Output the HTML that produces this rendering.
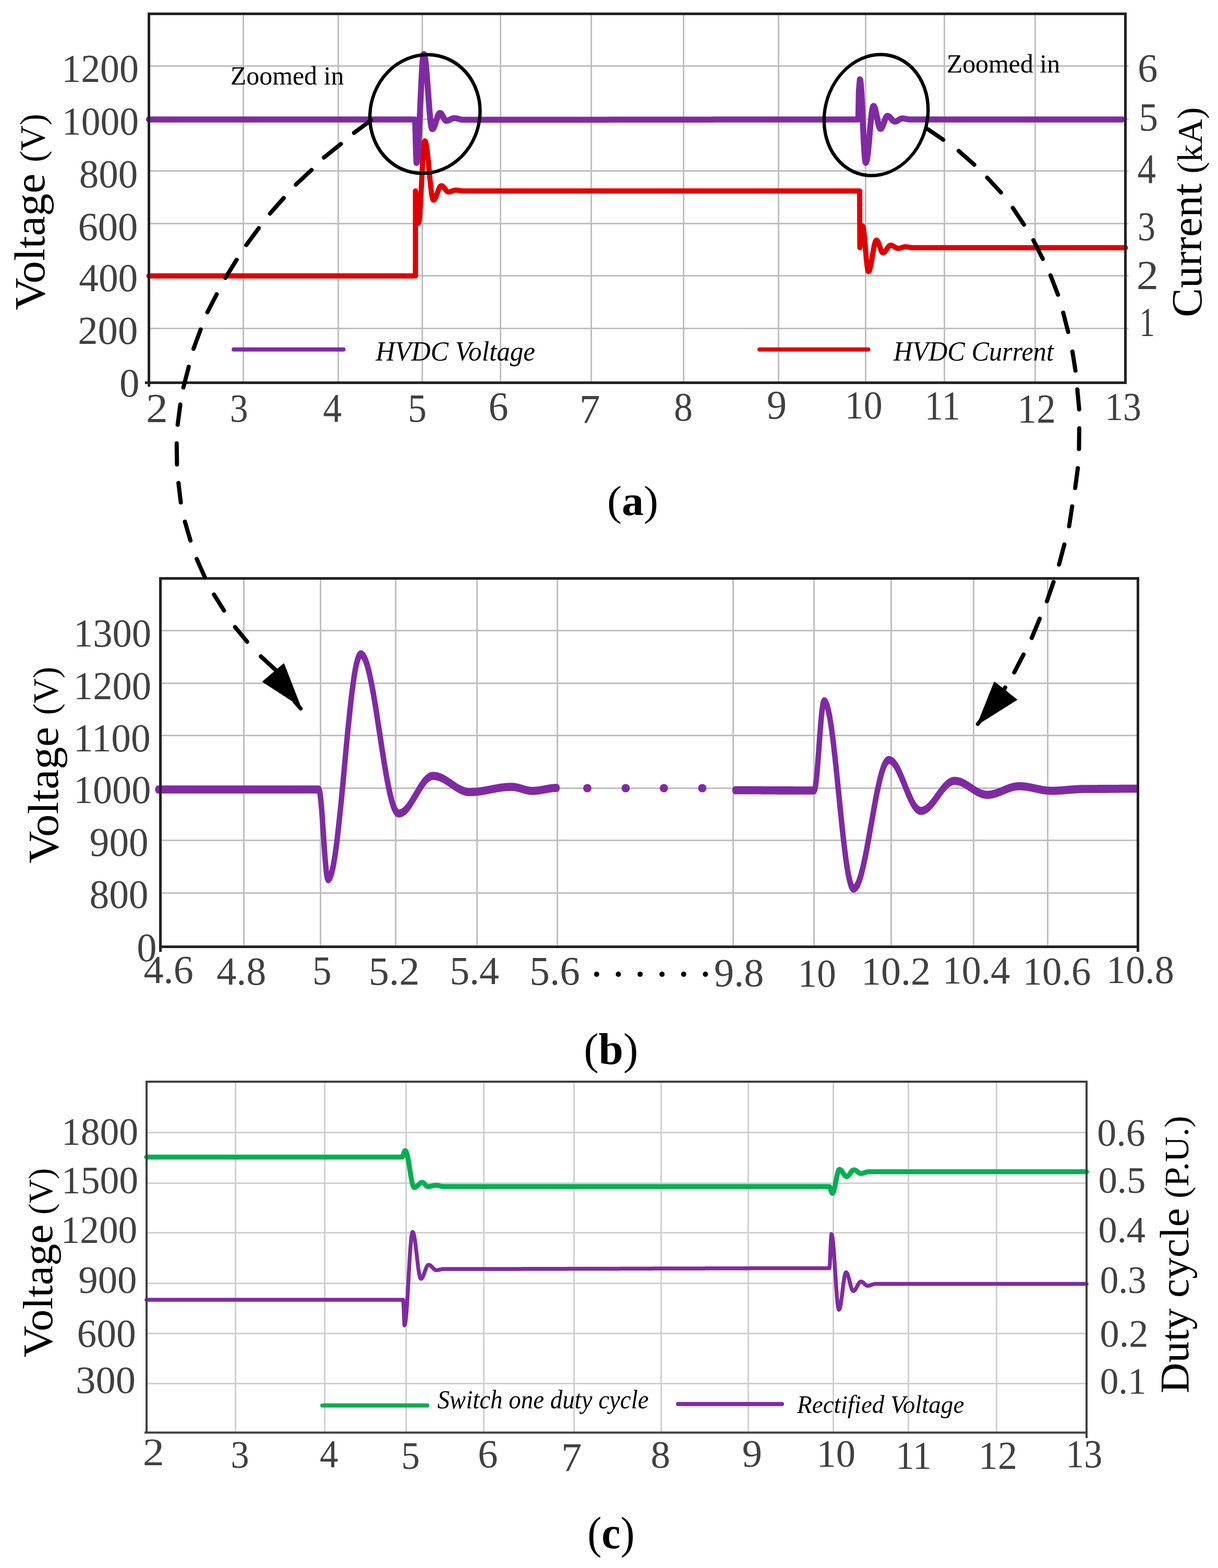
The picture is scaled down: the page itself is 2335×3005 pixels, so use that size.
<!DOCTYPE html><html><head><meta charset="utf-8"><title>HVDC figure</title><style>html,body{margin:0;padding:0;background:#fff;width:2335px;height:3005px;overflow:hidden;}svg{display:block;}</style></head><body><svg width="2335" height="3005" viewBox="0 0 2335 3005" font-family="'Liberation Serif','Times New Roman',serif">
<rect width="2335" height="3005" fill="#fff"/>
<path d="M466.5,26.5V733.5M648.5,26.5V733.5M809.5,26.5V733.5M959.5,26.5V733.5M1133.5,26.5V733.5M1310.5,26.5V733.5M1492.5,26.5V733.5M1659.5,26.5V733.5M1810.5,26.5V733.5M1984.5,26.5V733.5M285.5,126.5H2163.5M285.5,228.5H2163.5M285.5,327.5H2163.5M285.5,428.5H2163.5M285.5,528.5H2163.5M285.5,629.5H2163.5" stroke="#BFBFBF" stroke-width="3" fill="none"/>
<path d="M285.5,528.8L796.5,528.8L796.5,366.0L802.0,428.0L802.7,426.7L803.5,422.7L804.2,416.2L804.9,407.4L805.7,396.6L806.4,384.2L807.1,370.6L807.9,356.3L808.6,341.7L809.4,327.4L810.1,313.8L810.8,301.4L811.6,290.6L812.3,281.8L813.0,275.3L813.8,271.3L814.5,270.0L815.2,270.5L815.9,272.1L816.7,274.7L817.4,278.3L818.1,282.7L818.8,288.0L819.5,294.0L820.2,300.6L821.0,307.7L821.7,315.2L822.4,322.9L823.1,330.6L823.8,338.3L824.5,345.8L825.3,352.9L826.0,359.5L826.7,365.5L827.4,370.8L828.1,375.2L828.8,378.8L829.6,381.4L830.3,383.0L831.0,383.5L831.7,383.3L832.4,382.9L833.1,382.1L833.9,381.1L834.6,379.8L835.3,378.3L836.0,376.6L836.7,374.8L837.4,372.8L838.1,370.8L838.9,368.7L839.6,366.7L840.3,364.7L841.0,362.9L841.7,361.2L842.4,359.7L843.1,358.4L843.9,357.4L844.6,356.6L845.3,356.2L846.0,356.0L846.7,356.1L847.4,356.3L848.1,356.7L848.8,357.1L849.5,357.8L850.2,358.5L850.9,359.3L851.6,360.1L852.3,361.1L853.0,362.0L853.7,362.9L854.4,363.9L855.1,364.7L855.8,365.5L856.5,366.2L857.2,366.9L857.9,367.3L858.6,367.7L859.3,367.9L860.0,368.0L860.7,368.0L861.4,367.9L862.2,367.8L862.9,367.6L863.6,367.4L864.3,367.1L865.1,366.8L865.8,366.6L866.5,366.2L867.2,365.9L867.9,365.7L868.7,365.4L869.4,365.1L870.1,364.9L870.8,364.7L871.6,364.6L872.3,364.5L873.0,364.5L873.7,364.5L874.4,364.5L875.1,364.6L875.8,364.6L876.5,364.7L877.2,364.7L878.0,364.8L878.7,364.9L879.4,365.0L880.1,365.1L880.8,365.2L881.5,365.2L882.2,365.3L882.9,365.4L883.6,365.5L884.3,365.6L885.0,365.7L885.8,365.8L886.5,365.8L887.2,365.9L887.9,365.9L888.6,366.0L889.3,366.0L890.0,366.0L1648.0,366.0L1648.4,474.7L1653.5,433.0L1654.2,433.8L1654.9,436.3L1655.6,440.4L1656.3,445.8L1657.1,452.4L1657.8,460.0L1658.5,468.2L1659.2,476.8L1659.9,485.3L1660.6,493.5L1661.3,501.1L1662.1,507.7L1662.8,513.1L1663.5,517.2L1664.2,519.7L1664.9,520.5L1665.6,520.2L1666.4,519.2L1667.1,517.5L1667.8,515.3L1668.5,512.5L1669.3,509.1L1670.0,505.4L1670.7,501.4L1671.5,497.1L1672.2,492.6L1672.9,488.1L1673.6,483.6L1674.4,479.3L1675.1,475.3L1675.8,471.6L1676.6,468.2L1677.3,465.4L1678.0,463.2L1678.7,461.5L1679.5,460.5L1680.2,460.2L1680.9,460.4L1681.7,461.0L1682.4,462.0L1683.2,463.4L1683.9,465.0L1684.6,467.0L1685.4,469.1L1686.1,471.3L1686.9,473.5L1687.6,475.7L1688.4,477.8L1689.1,479.8L1689.8,481.4L1690.6,482.8L1691.3,483.8L1692.1,484.4L1692.8,484.6L1693.5,484.5L1694.3,484.2L1695.0,483.8L1695.7,483.2L1696.5,482.5L1697.2,481.6L1697.9,480.6L1698.6,479.6L1699.4,478.4L1700.1,477.3L1700.8,476.2L1701.6,475.0L1702.3,474.0L1703.0,473.0L1703.8,472.1L1704.5,471.4L1705.2,470.8L1705.9,470.4L1706.7,470.1L1707.4,470.0L1708.1,470.0L1708.9,470.1L1709.6,470.3L1710.3,470.6L1711.1,470.9L1711.8,471.2L1712.5,471.6L1713.2,472.1L1714.0,472.5L1714.7,473.0L1715.4,473.5L1716.2,473.9L1716.9,474.4L1717.6,474.8L1718.3,475.1L1719.1,475.4L1719.8,475.7L1720.5,475.9L1721.3,476.0L1722.0,476.0L1722.7,476.0L1723.4,475.9L1724.2,475.8L1724.9,475.7L1725.6,475.5L1726.3,475.3L1727.0,475.1L1727.8,474.9L1728.5,474.6L1729.2,474.4L1729.9,474.1L1730.7,473.9L1731.4,473.7L1732.1,473.5L1732.8,473.3L1733.5,473.2L1734.3,473.1L1735.0,473.0L1735.7,473.0L1736.4,473.0L1737.1,473.0L1737.8,473.1L1738.6,473.2L1739.3,473.2L1740.0,473.4L1740.7,473.5L1741.4,473.6L1742.1,473.7L1742.8,473.8L1743.6,474.0L1744.3,474.1L1745.0,474.2L1745.7,474.3L1746.4,474.5L1747.1,474.5L1747.9,474.6L1748.6,474.7L1749.3,474.7L1750.0,474.7L2157.5,474.7" stroke="#E00000" stroke-width="10" fill="none" stroke-linejoin="round" stroke-linecap="round"/>
<path d="M285.5,229.0L795.5,229.0L796.2,241.2L797.0,270.8L797.8,300.3L798.5,312.5L799.2,311.2L799.9,307.4L800.6,301.1L801.3,292.5L802.0,281.9L802.7,269.4L803.4,255.4L804.1,240.3L804.8,224.3L805.5,208.0L806.2,191.7L806.9,175.7L807.6,160.6L808.3,146.6L809.0,134.1L809.7,123.5L810.4,114.9L811.1,108.6L811.8,104.8L812.5,103.5L813.2,104.2L813.9,106.2L814.6,109.5L815.3,114.0L816.0,119.6L816.7,126.4L817.4,134.0L818.1,142.4L818.8,151.4L819.5,160.9L820.2,170.6L821.0,180.4L821.7,190.1L822.4,199.6L823.1,208.6L823.8,217.0L824.5,224.6L825.2,231.4L825.9,237.0L826.6,241.5L827.3,244.8L828.0,246.8L828.7,247.5L829.4,247.3L830.1,246.8L830.8,246.0L831.5,244.8L832.2,243.4L832.9,241.7L833.6,239.8L834.3,237.7L835.0,235.4L835.7,233.2L836.5,230.8L837.2,228.6L837.9,226.3L838.6,224.2L839.3,222.3L840.0,220.6L840.7,219.2L841.4,218.0L842.1,217.2L842.8,216.7L843.5,216.5L844.2,216.6L844.9,217.0L845.6,217.6L846.3,218.5L847.0,219.5L847.7,220.7L848.4,221.9L849.1,223.3L849.9,224.7L850.6,226.1L851.3,227.3L852.0,228.5L852.7,229.5L853.4,230.4L854.1,231.0L854.8,231.4L855.5,231.5L856.2,231.5L856.9,231.4L857.6,231.3L858.3,231.1L859.0,230.9L859.7,230.6L860.4,230.4L861.1,230.0L861.8,229.7L862.5,229.4L863.2,229.0L864.0,228.6L864.7,228.3L865.4,228.0L866.1,227.6L866.8,227.4L867.5,227.1L868.2,226.9L868.9,226.7L869.6,226.6L870.3,226.5L871.0,226.5L871.7,226.5L872.4,226.6L873.1,226.6L873.8,226.7L874.5,226.8L875.2,226.9L876.0,227.1L876.7,227.2L877.4,227.4L878.1,227.6L878.8,227.8L879.5,228.0L880.2,228.2L880.9,228.4L881.6,228.6L882.3,228.8L883.0,228.9L883.8,229.1L884.5,229.2L885.2,229.3L885.9,229.4L886.6,229.4L887.3,229.5L888.0,229.5L888.7,229.5L889.4,229.5L890.1,229.5L890.8,229.5L891.5,229.5L892.2,229.5L892.9,229.5L893.6,229.5L894.3,229.5L895.0,229.5L895.7,229.5L896.4,229.5L897.1,229.5L897.8,229.5L898.5,229.5L899.2,229.5L899.9,229.5L900.6,229.5L901.3,229.5L902.0,229.5L902.7,229.5L903.4,229.5L904.1,229.5L904.8,229.5L905.5,229.5L906.2,229.5L906.9,229.5L907.6,229.5L908.3,229.5L909.0,229.5L909.7,229.5L910.4,229.5L911.1,229.5L911.8,229.5L912.5,229.5L913.2,229.5L913.9,229.5L914.6,229.5L915.3,229.5L916.0,229.5L916.7,229.5L917.4,229.5L918.1,229.5L918.8,229.5L919.5,229.5L920.2,229.5L920.9,229.5L921.6,229.5L922.3,229.5L923.0,229.5L923.7,229.5L924.4,229.5L925.1,229.5L925.8,229.5L926.5,229.5L927.2,229.5L927.9,229.5L928.6,229.5L929.3,229.5L930.0,229.5L930.7,229.5L931.4,229.5L932.1,229.5L932.8,229.5L933.5,229.5L934.2,229.5L934.9,229.5L935.6,229.5L936.3,229.5L937.0,229.5L937.7,229.5L938.4,229.5L939.1,229.5L939.8,229.5L940.5,229.5L941.2,229.5L941.9,229.5L942.6,229.5L943.3,229.5L944.0,229.5L944.7,229.5L945.4,229.5L946.1,229.5L946.8,229.5L947.5,229.5L948.2,229.5L948.9,229.5L949.6,229.5L950.3,229.5L951.0,229.5L951.7,229.5L952.4,229.5L953.1,229.5L953.8,229.5L954.5,229.5L955.2,229.5L955.9,229.5L956.6,229.5L957.3,229.5L958.0,229.5L958.7,229.5L959.4,229.5L960.1,229.5L960.8,229.5L961.5,229.5L962.2,229.5L962.9,229.5L963.6,229.5L964.3,229.5L965.0,229.5L965.7,229.5L966.4,229.5L967.1,229.5L967.8,229.5L968.5,229.5L969.2,229.5L969.9,229.5L970.6,229.5L971.3,229.5L972.0,229.5L972.7,229.5L973.4,229.5L974.1,229.5L974.8,229.5L975.5,229.5L976.2,229.5L976.9,229.5L977.6,229.5L978.3,229.5L979.0,229.5L979.7,229.5L980.4,229.5L981.1,229.5L981.8,229.5L982.5,229.5L983.2,229.5L983.9,229.5L984.6,229.5L985.3,229.5L986.0,229.5L986.7,229.5L987.4,229.5L988.1,229.5L988.8,229.5L989.5,229.5L990.2,229.5L990.9,229.5L991.6,229.5L992.3,229.5L993.0,229.5L993.7,229.5L994.4,229.5L995.1,229.5L995.8,229.5L996.5,229.5L997.2,229.5L997.9,229.5L998.6,229.5L999.3,229.5L1000.0,229.5L1000.7,229.5L1001.4,229.5L1002.1,229.5L1002.8,229.5L1003.5,229.5L1004.2,229.5L1004.9,229.5L1005.6,229.5L1006.3,229.5L1007.0,229.5L1007.7,229.5L1008.4,229.5L1009.1,229.5L1009.8,229.5L1010.5,229.5L1011.2,229.5L1011.9,229.5L1012.6,229.5L1013.3,229.5L1014.0,229.5L1014.7,229.5L1015.4,229.5L1016.1,229.5L1016.8,229.5L1017.5,229.5L1018.2,229.5L1018.9,229.5L1019.6,229.5L1020.3,229.5L1021.0,229.5L1021.7,229.5L1022.4,229.5L1023.1,229.5L1023.8,229.5L1024.5,229.5L1025.2,229.5L1025.9,229.5L1026.6,229.5L1027.3,229.5L1028.0,229.5L1028.7,229.5L1029.4,229.5L1030.1,229.5L1030.8,229.5L1031.5,229.5L1032.2,229.5L1032.9,229.5L1033.6,229.5L1034.3,229.5L1035.0,229.5L1035.7,229.5L1036.4,229.5L1037.1,229.5L1037.8,229.5L1038.5,229.5L1039.2,229.5L1039.9,229.5L1040.6,229.5L1041.3,229.5L1042.0,229.5L1042.7,229.5L1043.4,229.4L1044.1,229.4L1044.8,229.4L1045.5,229.4L1046.2,229.4L1046.9,229.4L1047.6,229.4L1048.3,229.4L1049.0,229.4L1049.7,229.4L1050.4,229.4L1051.1,229.4L1051.8,229.4L1052.5,229.4L1053.2,229.4L1053.9,229.4L1054.6,229.4L1055.3,229.4L1056.0,229.4L1056.7,229.4L1057.4,229.4L1058.1,229.4L1058.8,229.4L1059.5,229.4L1060.2,229.4L1060.9,229.4L1061.6,229.4L1062.3,229.4L1063.0,229.4L1063.7,229.4L1064.4,229.4L1065.1,229.4L1065.8,229.4L1066.5,229.4L1067.2,229.4L1067.9,229.4L1068.6,229.4L1069.3,229.4L1070.0,229.4L1070.7,229.4L1071.4,229.4L1072.1,229.4L1072.8,229.4L1073.5,229.4L1074.2,229.4L1074.9,229.4L1075.6,229.4L1076.3,229.4L1077.0,229.4L1077.7,229.4L1078.4,229.4L1079.1,229.4L1079.8,229.4L1080.5,229.4L1081.2,229.4L1081.9,229.4L1082.6,229.4L1083.3,229.4L1084.0,229.4L1084.7,229.4L1085.4,229.4L1086.1,229.4L1086.8,229.4L1087.5,229.4L1088.2,229.4L1088.9,229.4L1089.6,229.4L1090.3,229.4L1091.0,229.4L1091.7,229.4L1092.4,229.4L1093.1,229.4L1093.8,229.4L1094.5,229.4L1095.2,229.4L1095.9,229.4L1096.6,229.4L1097.3,229.4L1098.0,229.4L1098.7,229.4L1099.4,229.4L1100.1,229.4L1100.8,229.4L1101.5,229.4L1102.2,229.4L1102.9,229.4L1103.6,229.4L1104.3,229.4L1105.0,229.4L1105.7,229.4L1106.4,229.4L1107.1,229.4L1107.8,229.4L1108.5,229.4L1109.2,229.4L1109.9,229.4L1110.6,229.4L1111.3,229.4L1112.0,229.4L1112.7,229.4L1113.4,229.4L1114.1,229.4L1114.8,229.4L1115.5,229.4L1116.2,229.4L1116.9,229.4L1117.6,229.4L1118.3,229.4L1119.0,229.4L1119.7,229.4L1120.4,229.4L1121.1,229.4L1121.8,229.4L1122.5,229.4L1123.2,229.4L1123.9,229.4L1124.6,229.4L1125.3,229.4L1126.0,229.4L1126.7,229.4L1127.4,229.4L1128.1,229.4L1128.8,229.4L1129.5,229.4L1130.2,229.4L1130.9,229.4L1131.6,229.4L1132.3,229.4L1133.0,229.4L1133.7,229.4L1134.4,229.4L1135.1,229.4L1135.8,229.4L1136.5,229.4L1137.2,229.4L1137.9,229.4L1138.6,229.4L1139.3,229.4L1140.0,229.4L1140.7,229.4L1141.4,229.4L1142.1,229.4L1142.8,229.4L1143.5,229.4L1144.2,229.4L1144.9,229.4L1145.6,229.4L1146.3,229.4L1147.0,229.4L1147.7,229.4L1148.4,229.4L1149.1,229.4L1149.8,229.4L1150.5,229.4L1151.2,229.4L1151.9,229.4L1152.6,229.4L1153.3,229.4L1154.0,229.4L1154.7,229.4L1155.4,229.4L1156.1,229.4L1156.8,229.4L1157.5,229.4L1158.2,229.4L1158.9,229.4L1159.6,229.4L1160.3,229.4L1161.0,229.4L1161.7,229.4L1162.4,229.4L1163.1,229.4L1163.8,229.4L1164.5,229.4L1165.2,229.4L1165.9,229.4L1166.6,229.4L1167.3,229.4L1168.0,229.3L1168.7,229.3L1169.4,229.3L1170.1,229.3L1170.8,229.3L1171.5,229.3L1172.2,229.3L1172.9,229.3L1173.6,229.3L1174.3,229.3L1175.0,229.3L1175.7,229.3L1176.4,229.3L1177.1,229.3L1177.8,229.3L1178.5,229.3L1179.2,229.3L1179.9,229.3L1180.6,229.3L1181.3,229.3L1182.0,229.3L1182.7,229.3L1183.4,229.3L1184.1,229.3L1184.8,229.3L1185.5,229.3L1186.2,229.3L1186.9,229.3L1187.6,229.3L1188.3,229.3L1189.0,229.3L1189.7,229.3L1190.4,229.3L1191.1,229.3L1191.8,229.3L1192.5,229.3L1193.2,229.3L1193.9,229.3L1194.6,229.3L1195.3,229.3L1196.0,229.3L1196.7,229.3L1197.4,229.3L1198.1,229.3L1198.8,229.3L1199.5,229.3L1200.2,229.3L1200.9,229.3L1201.6,229.3L1202.3,229.3L1203.0,229.3L1203.7,229.3L1204.4,229.3L1205.1,229.3L1205.8,229.3L1206.5,229.3L1207.2,229.3L1207.9,229.3L1208.6,229.3L1209.3,229.3L1210.0,229.3L1210.7,229.3L1211.4,229.3L1212.1,229.3L1212.8,229.3L1213.5,229.3L1214.2,229.3L1214.9,229.3L1215.6,229.3L1216.3,229.3L1217.0,229.3L1217.7,229.3L1218.4,229.3L1219.1,229.3L1219.8,229.3L1220.5,229.3L1221.2,229.3L1221.9,229.3L1222.6,229.3L1223.3,229.3L1224.0,229.3L1224.7,229.3L1225.4,229.3L1226.1,229.3L1226.8,229.3L1227.5,229.3L1228.2,229.3L1228.9,229.3L1229.6,229.3L1230.3,229.3L1231.0,229.3L1231.7,229.3L1232.4,229.3L1233.1,229.3L1233.8,229.3L1234.5,229.3L1235.2,229.3L1235.9,229.3L1236.6,229.3L1237.3,229.3L1238.0,229.3L1238.7,229.3L1239.4,229.3L1240.1,229.3L1240.8,229.3L1241.5,229.3L1242.2,229.3L1242.9,229.3L1243.6,229.3L1244.3,229.3L1245.0,229.3L1245.7,229.3L1246.4,229.3L1247.1,229.3L1247.8,229.3L1248.5,229.3L1249.2,229.3L1249.9,229.3L1250.6,229.3L1251.3,229.3L1252.0,229.3L1252.7,229.3L1253.4,229.3L1254.1,229.3L1254.8,229.3L1255.5,229.3L1256.2,229.3L1256.9,229.3L1257.6,229.3L1258.3,229.3L1259.0,229.3L1259.7,229.3L1260.4,229.3L1261.1,229.3L1261.8,229.3L1262.5,229.3L1263.2,229.3L1263.9,229.3L1264.6,229.3L1265.3,229.3L1266.0,229.3L1266.8,229.2L1267.5,229.2L1268.2,229.2L1268.9,229.2L1269.6,229.2L1270.3,229.2L1271.0,229.2L1271.7,229.2L1272.4,229.2L1273.1,229.2L1273.8,229.2L1274.5,229.2L1275.2,229.2L1275.9,229.2L1276.6,229.2L1277.3,229.2L1278.0,229.2L1278.7,229.2L1279.4,229.2L1280.1,229.2L1280.8,229.2L1281.5,229.2L1282.2,229.2L1282.9,229.2L1283.6,229.2L1284.3,229.2L1285.0,229.2L1285.7,229.2L1286.4,229.2L1287.1,229.2L1287.8,229.2L1288.5,229.2L1289.2,229.2L1289.9,229.2L1290.6,229.2L1291.3,229.2L1292.0,229.2L1292.7,229.2L1293.4,229.2L1294.1,229.2L1294.8,229.2L1295.5,229.2L1296.2,229.2L1296.9,229.2L1297.6,229.2L1298.3,229.2L1299.0,229.2L1299.7,229.2L1300.4,229.2L1301.1,229.2L1301.8,229.2L1302.5,229.2L1303.2,229.2L1303.9,229.2L1304.6,229.2L1305.3,229.2L1306.0,229.2L1306.7,229.2L1307.4,229.2L1308.1,229.2L1308.8,229.2L1309.5,229.2L1310.2,229.2L1310.9,229.2L1311.6,229.2L1312.3,229.2L1313.0,229.2L1313.7,229.2L1314.4,229.2L1315.1,229.2L1315.8,229.2L1316.5,229.2L1317.2,229.2L1317.9,229.2L1318.6,229.2L1319.3,229.2L1320.0,229.2L1320.7,229.2L1321.4,229.2L1322.1,229.2L1322.8,229.2L1323.5,229.2L1324.2,229.2L1324.9,229.2L1325.6,229.2L1326.3,229.2L1327.0,229.2L1327.7,229.2L1328.4,229.2L1329.1,229.2L1329.8,229.2L1330.5,229.2L1331.2,229.2L1331.9,229.2L1332.6,229.2L1333.3,229.2L1334.0,229.2L1334.7,229.2L1335.4,229.2L1336.1,229.2L1336.8,229.2L1337.5,229.2L1338.2,229.2L1338.9,229.2L1339.6,229.2L1340.3,229.2L1341.0,229.2L1341.7,229.2L1342.4,229.2L1343.1,229.2L1343.8,229.2L1344.5,229.2L1345.2,229.2L1345.9,229.2L1346.6,229.2L1347.3,229.2L1348.0,229.2L1348.7,229.2L1349.4,229.2L1350.1,229.2L1350.8,229.2L1351.5,229.2L1352.2,229.2L1352.9,229.2L1353.6,229.2L1354.3,229.2L1355.0,229.2L1355.7,229.2L1356.4,229.2L1357.1,229.2L1357.8,229.2L1358.5,229.2L1359.2,229.2L1359.9,229.2L1360.6,229.2L1361.3,229.2L1362.0,229.2L1362.7,229.2L1363.4,229.2L1364.1,229.2L1364.8,229.2L1365.5,229.2L1366.2,229.1L1366.9,229.1L1367.6,229.1L1368.3,229.1L1369.0,229.1L1369.7,229.1L1370.4,229.1L1371.1,229.1L1371.8,229.1L1372.5,229.1L1373.2,229.1L1373.9,229.1L1374.6,229.1L1375.3,229.1L1376.0,229.1L1376.7,229.1L1377.4,229.1L1378.1,229.1L1378.8,229.1L1379.5,229.1L1380.2,229.1L1380.9,229.1L1381.6,229.1L1382.3,229.1L1383.0,229.1L1383.7,229.1L1384.4,229.1L1385.1,229.1L1385.8,229.1L1386.5,229.1L1387.2,229.1L1387.9,229.1L1388.6,229.1L1389.3,229.1L1390.0,229.1L1390.7,229.1L1391.4,229.1L1392.1,229.1L1392.8,229.1L1393.5,229.1L1394.2,229.1L1394.9,229.1L1395.6,229.1L1396.3,229.1L1397.0,229.1L1397.7,229.1L1398.4,229.1L1399.1,229.1L1399.8,229.1L1400.5,229.1L1401.2,229.1L1401.9,229.1L1402.6,229.1L1403.3,229.1L1404.0,229.1L1404.7,229.1L1405.4,229.1L1406.1,229.1L1406.8,229.1L1407.5,229.1L1408.2,229.1L1408.9,229.1L1409.6,229.1L1410.3,229.1L1411.0,229.1L1411.7,229.1L1412.4,229.1L1413.1,229.1L1413.8,229.1L1414.5,229.1L1415.2,229.1L1415.9,229.1L1416.6,229.1L1417.3,229.1L1418.0,229.1L1418.7,229.1L1419.4,229.1L1420.1,229.1L1420.8,229.1L1421.5,229.1L1422.2,229.1L1422.9,229.1L1423.6,229.1L1424.3,229.1L1425.0,229.1L1425.7,229.1L1426.4,229.1L1427.1,229.1L1427.8,229.1L1428.5,229.1L1429.2,229.1L1429.9,229.1L1430.6,229.1L1431.3,229.1L1432.0,229.1L1432.7,229.1L1433.4,229.1L1434.1,229.1L1434.8,229.1L1435.5,229.1L1436.2,229.1L1436.9,229.1L1437.6,229.1L1438.3,229.1L1439.0,229.1L1439.7,229.1L1440.4,229.1L1441.1,229.1L1441.8,229.1L1442.5,229.1L1443.2,229.1L1443.9,229.1L1444.6,229.1L1445.3,229.1L1446.0,229.1L1446.7,229.1L1447.4,229.1L1448.1,229.1L1448.8,229.1L1449.5,229.1L1450.2,229.1L1450.9,229.1L1451.6,229.1L1452.3,229.1L1453.0,229.1L1453.7,229.1L1454.4,229.1L1455.1,229.1L1455.8,229.1L1456.5,229.1L1457.2,229.1L1457.9,229.1L1458.6,229.1L1459.3,229.1L1460.0,229.1L1460.7,229.1L1461.4,229.1L1462.1,229.1L1462.8,229.1L1463.5,229.1L1464.2,229.1L1464.9,229.1L1465.6,229.1L1466.3,229.1L1467.0,229.1L1467.7,229.1L1468.4,229.1L1469.1,229.1L1469.8,229.1L1470.5,229.1L1471.2,229.1L1471.9,229.1L1472.6,229.1L1473.3,229.1L1474.0,229.1L1474.7,229.1L1475.4,229.1L1476.1,229.1L1476.8,229.1L1477.5,229.1L1478.2,229.1L1478.9,229.1L1479.6,229.1L1480.3,229.1L1481.0,229.1L1481.7,229.1L1482.4,229.1L1483.1,229.1L1483.8,229.1L1484.5,229.1L1485.2,229.1L1485.9,229.1L1486.6,229.1L1487.3,229.1L1488.0,229.1L1488.7,229.1L1489.4,229.1L1490.1,229.1L1490.8,229.0L1491.5,229.0L1492.2,229.0L1492.9,229.0L1493.6,229.0L1494.3,229.0L1495.0,229.0L1495.7,229.0L1496.4,229.0L1497.1,229.0L1497.8,229.0L1498.5,229.0L1499.2,229.0L1499.9,229.0L1500.6,229.0L1501.3,229.0L1502.0,229.0L1502.7,229.0L1503.4,229.0L1504.1,229.0L1504.8,229.0L1505.5,229.0L1506.2,229.0L1506.9,229.0L1507.6,229.0L1508.3,229.0L1509.0,229.0L1509.7,229.0L1510.4,229.0L1511.1,229.0L1511.8,229.0L1512.5,229.0L1513.2,229.0L1513.9,229.0L1514.6,229.0L1515.3,229.0L1516.0,229.0L1516.7,229.0L1517.4,229.0L1518.1,229.0L1518.8,229.0L1519.5,229.0L1520.2,229.0L1520.9,229.0L1521.6,229.0L1522.3,229.0L1523.0,229.0L1523.7,229.0L1524.4,229.0L1525.1,229.0L1525.8,229.0L1526.5,229.0L1527.2,229.0L1527.9,229.0L1528.6,229.0L1529.3,229.0L1530.0,229.0L1530.7,229.0L1531.4,229.0L1532.1,229.0L1532.8,229.0L1533.5,229.0L1534.2,229.0L1534.9,229.0L1535.6,229.0L1536.3,229.0L1537.0,229.0L1537.7,229.0L1538.4,229.0L1539.1,229.0L1539.8,229.0L1540.5,229.0L1541.2,229.0L1541.9,229.0L1542.6,229.0L1543.3,229.0L1544.0,229.0L1544.7,229.0L1545.4,229.0L1546.1,229.0L1546.8,229.0L1547.5,229.0L1548.2,229.0L1548.9,229.0L1549.6,229.0L1550.3,229.0L1551.0,229.0L1551.7,229.0L1552.4,229.0L1553.1,229.0L1553.8,229.0L1554.5,229.0L1555.2,229.0L1555.9,229.0L1556.6,229.0L1557.3,229.0L1558.0,229.0L1558.7,229.0L1559.4,229.0L1560.1,229.0L1560.8,229.0L1561.5,229.0L1562.2,229.0L1562.9,229.0L1563.6,229.0L1564.3,229.0L1565.0,229.0L1565.7,229.0L1566.4,229.0L1567.1,229.0L1567.8,229.0L1568.5,229.0L1569.2,229.0L1569.9,229.0L1570.6,229.0L1571.3,229.0L1572.0,229.0L1572.7,229.0L1573.4,229.0L1574.1,229.0L1574.8,229.0L1575.5,229.0L1576.2,229.0L1576.9,229.0L1577.6,229.0L1578.3,229.0L1579.0,229.0L1579.7,229.0L1580.4,229.0L1581.1,229.0L1581.8,229.0L1582.5,229.0L1583.2,229.0L1583.9,229.0L1584.6,229.0L1585.3,229.0L1586.0,229.0L1586.7,229.0L1587.4,229.0L1588.1,229.0L1588.8,229.0L1589.5,229.0L1590.2,229.0L1590.9,229.0L1591.6,229.0L1592.3,229.0L1593.0,229.0L1593.7,229.0L1594.4,229.0L1595.1,229.0L1595.8,229.0L1596.5,229.0L1597.2,229.0L1597.9,229.0L1598.6,229.0L1599.3,229.0L1600.0,229.0L1600.7,229.0L1601.4,229.0L1602.1,229.0L1602.8,229.0L1603.5,229.0L1604.2,229.0L1604.9,229.0L1605.6,229.0L1606.3,229.0L1607.0,229.0L1607.7,229.0L1608.4,229.0L1609.1,229.0L1609.8,229.0L1610.5,229.0L1611.2,229.0L1611.9,229.0L1612.6,229.0L1613.3,229.0L1614.0,229.0L1614.7,229.0L1615.4,229.0L1616.1,229.0L1616.8,229.0L1617.5,229.0L1618.2,229.0L1618.9,229.0L1619.6,229.0L1620.3,229.0L1621.0,229.0L1621.7,229.0L1622.4,229.0L1623.1,229.0L1623.8,229.0L1624.5,229.0L1625.2,229.0L1625.9,229.0L1626.6,229.0L1627.3,229.0L1628.0,229.0L1628.7,229.0L1629.4,229.0L1630.1,229.0L1630.8,229.0L1631.5,229.0L1632.2,229.0L1632.9,229.0L1633.6,229.0L1634.3,229.0L1635.0,229.0L1635.7,229.0L1636.4,229.0L1637.1,229.0L1637.8,229.0L1638.5,229.0L1639.2,229.0L1639.9,229.0L1640.6,229.0L1641.3,229.0L1642.0,229.0L1642.7,229.0L1643.4,229.0L1644.1,229.0L1644.8,229.0L1645.5,229.0L1646.5,175.0L1647.5,163.5L1648.5,152.0L1649.2,153.5L1649.9,158.1L1650.6,165.5L1651.3,175.4L1652.0,187.6L1652.7,201.4L1653.4,216.4L1654.1,232.0L1654.8,247.6L1655.5,262.6L1656.2,276.4L1656.9,288.6L1657.6,298.5L1658.3,305.9L1659.0,310.5L1659.7,312.0L1660.4,311.4L1661.1,309.6L1661.8,306.6L1662.5,302.5L1663.2,297.5L1664.0,291.5L1664.7,284.8L1665.4,277.4L1666.1,269.6L1666.8,261.6L1667.5,253.4L1668.2,245.4L1668.9,237.6L1669.6,230.2L1670.3,223.5L1671.1,217.5L1671.8,212.5L1672.5,208.4L1673.2,205.4L1673.9,203.6L1674.6,203.0L1675.3,203.3L1676.0,204.2L1676.7,205.7L1677.4,207.6L1678.1,210.1L1678.8,213.0L1679.5,216.2L1680.2,219.6L1680.9,223.2L1681.7,226.8L1682.4,230.4L1683.1,233.8L1683.8,237.0L1684.5,239.9L1685.2,242.4L1685.9,244.3L1686.6,245.8L1687.3,246.7L1688.0,247.0L1688.7,246.8L1689.4,246.3L1690.1,245.5L1690.8,244.4L1691.5,243.0L1692.2,241.3L1692.9,239.5L1693.6,237.6L1694.3,235.5L1695.1,233.5L1695.8,231.4L1696.5,229.5L1697.2,227.7L1697.9,226.0L1698.6,224.6L1699.3,223.5L1700.0,222.7L1700.7,222.2L1701.4,222.0L1702.1,222.1L1702.8,222.3L1703.5,222.6L1704.2,223.1L1705.0,223.6L1705.7,224.3L1706.4,225.0L1707.1,225.8L1707.8,226.6L1708.5,227.5L1709.2,228.4L1709.9,229.2L1710.6,230.0L1711.3,230.7L1712.0,231.4L1712.8,231.9L1713.5,232.4L1714.2,232.7L1714.9,232.9L1715.6,233.0L1716.3,233.0L1717.0,232.9L1717.7,232.7L1718.4,232.4L1719.1,232.1L1719.8,231.8L1720.5,231.4L1721.2,230.9L1721.9,230.5L1722.7,230.0L1723.4,229.5L1724.1,229.1L1724.8,228.6L1725.5,228.2L1726.2,227.9L1726.9,227.6L1727.6,227.3L1728.3,227.1L1729.0,227.0L1729.7,227.0L1730.4,227.0L1731.2,227.0L1731.9,227.1L1732.6,227.2L1733.3,227.3L1734.1,227.4L1734.8,227.5L1735.5,227.6L1736.3,227.8L1737.0,227.9L1737.7,228.1L1738.4,228.2L1739.2,228.4L1739.9,228.5L1740.6,228.6L1741.4,228.7L1742.1,228.8L1742.8,228.9L1743.5,229.0L1744.3,229.0L1745.0,229.0L2152.0,229.0" stroke="#7F2AA3" stroke-width="11.5" fill="none" stroke-linejoin="round" stroke-linecap="round"/>
<path d="M285.5,26.5H2157.5V733.5H285.5Z M277.8,733.5H285.5 M285.5,733.5V741" stroke="#222222" stroke-width="5" fill="none"/>
<ellipse cx="814.7" cy="218.5" rx="105.5" ry="113.8" transform="translate(814.7 218.5) skewX(-2.5) translate(-814.7 -218.5)" stroke="#000" stroke-width="6.4" fill="none"/>
<ellipse cx="1679.5" cy="220.5" rx="99.3" ry="116" transform="translate(1679.5 220.5) skewX(-4.3) translate(-1679.5 -220.5)" stroke="#000" stroke-width="6.4" fill="none"/>
<path d="M448,669.7H658.4" stroke="#7F2AA3" stroke-width="8" stroke-linecap="round"/>
<path d="M1456,669.7H1664.4" stroke="#E00000" stroke-width="8" stroke-linecap="round"/>
<text transform="translate(720.21,691.30) scale(0.9851,1)" font-size="52.00" fill="#000" font-style="italic">HVDC Voltage</text>
<text transform="translate(1713.00,691.30) scale(0.9674,1)" font-size="52.00" fill="#000" font-style="italic">HVDC Current</text>
<text transform="translate(441.83,162.20) scale(0.9978,1)" font-size="50.00" fill="#000" >Zoomed in</text>
<text transform="translate(1814.73,138.90) scale(0.9973,1)" font-size="50.00" fill="#000" >Zoomed in</text>
<text transform="translate(118.24,157.04) scale(0.9700,1)" font-size="76.15" fill="#404040" >1200</text>
<text transform="translate(118.86,258.23) scale(0.9609,1)" font-size="76.59" fill="#404040" >1000</text>
<text transform="translate(151.79,358.84) scale(0.9909,1)" font-size="75.70" fill="#404040" >800</text>
<text transform="translate(149.44,460.23) scale(0.9946,1)" font-size="77.04" fill="#404040" >600</text>
<text transform="translate(151.19,558.24) scale(0.9983,1)" font-size="75.56" fill="#404040" >400</text>
<text transform="translate(149.25,658.84) scale(1.0139,1)" font-size="75.70" fill="#404040" >200</text>
<text transform="translate(228.91,760.13) scale(0.9949,1)" font-size="77.33" fill="#404040" >0</text>
<text transform="translate(2180.93,155.64) scale(1.0128,1)" font-size="75.99" fill="#404040" >6</text>
<text transform="translate(2183.27,249.54) scale(0.9627,1)" font-size="76.39" fill="#404040" >5</text>
<text transform="translate(2180.58,350.60) scale(0.8939,1)" font-size="79.39" fill="#404040" >4</text>
<text transform="translate(2180.98,459.72) scale(0.8745,1)" font-size="77.62" fill="#404040" >3</text>
<text transform="translate(2178.70,552.50) scale(1.0724,1)" font-size="78.79" fill="#404040" >2</text>
<text transform="translate(2184.59,643.20) scale(0.7389,1)" font-size="79.09" fill="#404040" >1</text>
<text transform="translate(279.94,808.40) scale(1.0762,1)" font-size="77.58" fill="#404040" >2</text>
<text transform="translate(440.70,808.03) scale(0.9033,1)" font-size="77.03" fill="#404040" >3</text>
<text transform="translate(619.26,808.40) scale(0.9216,1)" font-size="78.17" fill="#404040" >4</text>
<text transform="translate(781.89,808.03) scale(0.9312,1)" font-size="76.84" fill="#404040" >5</text>
<text transform="translate(936.47,805.23) scale(0.9851,1)" font-size="77.17" fill="#404040" >6</text>
<text transform="translate(1110.82,810.20) scale(1.0183,1)" font-size="78.32" fill="#404040" >7</text>
<text transform="translate(1292.11,805.52) scale(0.9192,1)" font-size="78.07" fill="#404040" >8</text>
<text transform="translate(1470.12,802.33) scale(0.9862,1)" font-size="77.32" fill="#404040" >9</text>
<text transform="translate(1619.71,802.33) scale(0.9331,1)" font-size="77.04" fill="#404040" >10</text>
<text transform="translate(1772.44,802.70) scale(0.9114,1)" font-size="78.48" fill="#404040" >11</text>
<text transform="translate(1950.59,808.70) scale(0.9367,1)" font-size="78.19" fill="#404040" >12</text>
<text transform="translate(2118.19,805.33) scale(0.9062,1)" font-size="77.03" fill="#404040" >13</text>
<text transform="translate(84.84,594.56) rotate(-90) scale(1.0390,1)" font-size="83.08" fill="#000">Voltage</text>
<text transform="translate(84.85,311.01) rotate(-90) scale(0.9919,1)" font-size="67.55" fill="#000">(V)</text>
<text transform="translate(2303.37,607.96) rotate(-90) scale(1.0144,1)" font-size="82.83" fill="#000">Current</text>
<text transform="translate(2303.51,332.63) rotate(-90) scale(1.0075,1)" font-size="66.78" fill="#000">(kA)</text>
<text x="1164.1" y="987" font-size="81" fill="#000" textLength="97.9" lengthAdjust="spacingAndGlyphs">(<tspan font-weight="bold">a</tspan>)</text>
<path d="M467.5,1108.5V1814.5M614.5,1108.5V1814.5M758.5,1108.5V1814.5M914.5,1108.5V1814.5M1068.5,1108.5V1814.5M1405.5,1108.5V1814.5M1560.5,1108.5V1814.5M1708.5,1108.5V1814.5M1866.5,1108.5V1814.5M2008.5,1108.5V1814.5M307.5,1208.5H2181.5M307.5,1309.5H2181.5M307.5,1409.5H2181.5M307.5,1510.5H2181.5M307.5,1610.5H2181.5M307.5,1711.5H2181.5" stroke="#BFBFBF" stroke-width="3" fill="none"/>
<g transform="scale(1,1.5)"><path d="M302.5,1008.7L611.0,1008.7L611.7,1009.1L612.4,1010.5L613.2,1012.7L613.9,1015.8L614.6,1019.6L615.3,1024.2L616.0,1029.5L616.8,1035.3L617.5,1041.6L618.2,1048.3L618.9,1055.3L619.6,1062.4L620.4,1069.6L621.1,1076.7L621.8,1083.7L622.5,1090.4L623.2,1096.7L624.0,1102.5L624.7,1107.8L625.4,1112.4L626.1,1116.2L626.8,1119.3L627.6,1121.5L628.3,1122.9L629.0,1123.3L629.7,1123.2L630.4,1123.0L631.1,1122.5L631.8,1121.9L632.5,1121.1L633.2,1120.1L633.9,1119.0L634.6,1117.6L635.3,1116.1L636.0,1114.5L636.7,1112.6L637.5,1110.6L638.2,1108.5L638.9,1106.1L639.6,1103.7L640.3,1101.0L641.0,1098.2L641.7,1095.3L642.4,1092.2L643.1,1089.0L643.8,1085.6L644.5,1082.1L645.2,1078.5L645.9,1074.8L646.6,1070.9L647.3,1067.0L648.0,1062.9L648.7,1058.7L649.4,1054.4L650.1,1050.0L650.8,1045.6L651.5,1041.0L652.2,1036.4L653.0,1031.7L653.7,1026.9L654.4,1022.1L655.1,1017.3L655.8,1012.3L656.5,1007.4L657.2,1002.4L657.9,997.4L658.6,992.3L659.3,987.3L660.0,982.2L660.7,977.1L661.4,972.1L662.1,967.0L662.8,962.0L663.5,956.9L664.2,951.9L664.9,947.0L665.6,942.1L666.3,937.2L667.0,932.4L667.7,927.6L668.5,922.9L669.2,918.3L669.9,913.8L670.6,909.3L671.3,904.9L672.0,900.6L672.7,896.5L673.4,892.4L674.1,888.4L674.8,884.5L675.5,880.8L676.2,877.2L676.9,873.7L677.6,870.3L678.3,867.1L679.0,864.0L679.7,861.1L680.4,858.3L681.1,855.7L681.8,853.2L682.5,850.9L683.2,848.7L684.0,846.7L684.7,844.9L685.4,843.2L686.1,841.7L686.8,840.4L687.5,839.2L688.2,838.2L688.9,837.4L689.6,836.8L690.3,836.4L691.0,836.1L691.7,836.0L692.4,836.0L693.1,836.2L693.8,836.4L694.5,836.8L695.2,837.2L695.9,837.7L696.6,838.3L697.3,839.0L698.0,839.8L698.7,840.7L699.5,841.7L700.2,842.7L700.9,843.9L701.6,845.1L702.3,846.5L703.0,847.9L703.7,849.4L704.4,850.9L705.1,852.6L705.8,854.3L706.5,856.2L707.2,858.0L707.9,860.0L708.6,862.0L709.3,864.2L710.0,866.3L710.7,868.6L711.4,870.9L712.1,873.2L712.8,875.7L713.6,878.2L714.3,880.7L715.0,883.3L715.7,885.9L716.4,888.6L717.1,891.4L717.8,894.2L718.5,897.0L719.2,899.8L719.9,902.7L720.6,905.7L721.3,908.6L722.0,911.6L722.7,914.6L723.4,917.6L724.1,920.7L724.8,923.8L725.5,926.8L726.2,929.9L726.9,933.0L727.6,936.1L728.4,939.2L729.1,942.3L729.8,945.4L730.5,948.5L731.2,951.6L731.9,954.6L732.6,957.7L733.3,960.7L734.0,963.7L734.7,966.7L735.4,969.7L736.1,972.6L736.8,975.5L737.5,978.4L738.2,981.2L738.9,984.0L739.6,986.7L740.3,989.4L741.0,992.0L741.7,994.6L742.4,997.2L743.2,999.7L743.9,1002.1L744.6,1004.5L745.3,1006.8L746.0,1009.0L746.7,1011.2L747.4,1013.3L748.1,1015.3L748.8,1017.3L749.5,1019.2L750.2,1021.0L750.9,1022.7L751.6,1024.4L752.3,1026.0L753.0,1027.5L753.7,1028.9L754.4,1030.2L755.1,1031.4L755.8,1032.6L756.5,1033.7L757.3,1034.6L758.0,1035.5L758.7,1036.3L759.4,1037.0L760.1,1037.6L760.8,1038.2L761.5,1038.6L762.2,1038.9L762.9,1039.1L763.6,1039.3L764.3,1039.3L765.0,1039.3L765.7,1039.3L766.4,1039.2L767.1,1039.1L767.8,1039.0L768.5,1038.9L769.2,1038.7L769.9,1038.5L770.6,1038.3L771.3,1038.0L772.0,1037.7L772.7,1037.4L773.4,1037.1L774.1,1036.8L774.8,1036.4L775.6,1036.0L776.3,1035.6L777.0,1035.1L777.7,1034.7L778.4,1034.2L779.1,1033.7L779.8,1033.1L780.5,1032.6L781.2,1032.0L781.9,1031.4L782.6,1030.8L783.3,1030.2L784.0,1029.6L784.7,1028.9L785.4,1028.2L786.1,1027.6L786.8,1026.9L787.5,1026.2L788.2,1025.4L788.9,1024.7L789.6,1024.0L790.3,1023.2L791.0,1022.4L791.7,1021.7L792.4,1020.9L793.1,1020.1L793.8,1019.3L794.5,1018.5L795.2,1017.7L795.9,1016.9L796.6,1016.1L797.3,1015.3L798.1,1014.5L798.8,1013.7L799.5,1012.9L800.2,1012.1L800.9,1011.3L801.6,1010.6L802.3,1009.8L803.0,1009.0L803.7,1008.2L804.4,1007.5L805.1,1006.7L805.8,1006.0L806.5,1005.2L807.2,1004.5L807.9,1003.8L808.6,1003.1L809.3,1002.4L810.0,1001.8L810.7,1001.1L811.4,1000.5L812.1,999.8L812.8,999.2L813.5,998.6L814.2,998.1L814.9,997.5L815.6,997.0L816.3,996.5L817.0,996.0L817.7,995.5L818.4,995.1L819.1,994.7L819.9,994.3L820.6,993.9L821.3,993.6L822.0,993.2L822.7,992.9L823.4,992.7L824.1,992.4L824.8,992.2L825.5,992.0L826.2,991.8L826.9,991.7L827.6,991.5L828.3,991.5L829.0,991.4L829.7,991.3L830.4,991.3L831.1,991.3L831.8,991.4L832.5,991.4L833.2,991.4L833.9,991.5L834.6,991.5L835.3,991.6L836.0,991.7L836.7,991.7L837.4,991.8L838.1,991.9L838.8,992.1L839.5,992.2L840.2,992.3L840.9,992.5L841.6,992.6L842.3,992.8L843.0,992.9L843.7,993.1L844.4,993.3L845.1,993.5L845.8,993.7L846.5,993.9L847.2,994.1L847.9,994.4L848.6,994.6L849.3,994.8L850.0,995.1L850.7,995.3L851.4,995.6L852.1,995.9L852.8,996.1L853.5,996.4L854.2,996.7L854.9,997.0L855.6,997.3L856.3,997.6L857.0,997.9L857.7,998.2L858.4,998.5L859.1,998.8L859.8,999.1L860.5,999.4L861.2,999.7L861.9,1000.1L862.6,1000.4L863.3,1000.7L864.0,1001.0L864.7,1001.3L865.5,1001.7L866.2,1002.0L866.9,1002.3L867.6,1002.6L868.3,1003.0L869.0,1003.3L869.7,1003.6L870.4,1003.9L871.1,1004.2L871.8,1004.5L872.5,1004.9L873.2,1005.2L873.9,1005.5L874.6,1005.8L875.3,1006.1L876.0,1006.4L876.7,1006.6L877.4,1006.9L878.1,1007.2L878.8,1007.5L879.5,1007.7L880.2,1008.0L880.9,1008.3L881.6,1008.5L882.3,1008.7L883.0,1009.0L883.7,1009.2L884.4,1009.4L885.1,1009.6L885.8,1009.8L886.5,1010.0L887.2,1010.2L887.9,1010.4L888.6,1010.6L889.3,1010.7L890.0,1010.9L890.7,1011.0L891.4,1011.2L892.1,1011.3L892.8,1011.4L893.5,1011.5L894.2,1011.6L894.9,1011.7L895.6,1011.8L896.3,1011.8L897.0,1011.9L897.7,1011.9L898.4,1012.0L899.1,1012.0L899.8,1012.0L900.5,1012.0L901.2,1012.0L901.9,1012.0L902.6,1012.0L903.3,1012.0L904.0,1012.0L904.7,1012.0L905.4,1011.9L906.1,1011.9L906.8,1011.9L907.5,1011.9L908.2,1011.8L908.9,1011.8L909.6,1011.8L910.3,1011.8L911.1,1011.7L911.8,1011.7L912.5,1011.6L913.2,1011.6L913.9,1011.6L914.6,1011.5L915.3,1011.5L916.0,1011.4L916.7,1011.4L917.4,1011.3L918.1,1011.2L918.8,1011.2L919.5,1011.1L920.2,1011.1L920.9,1011.0L921.6,1010.9L922.3,1010.9L923.0,1010.8L923.7,1010.7L924.4,1010.6L925.1,1010.6L925.8,1010.5L926.5,1010.4L927.2,1010.3L927.9,1010.3L928.6,1010.2L929.3,1010.1L930.0,1010.0L930.8,1009.9L931.5,1009.8L932.2,1009.7L932.9,1009.7L933.6,1009.6L934.3,1009.5L935.0,1009.4L935.7,1009.3L936.4,1009.2L937.1,1009.1L937.8,1009.0L938.5,1008.9L939.2,1008.9L939.9,1008.8L940.6,1008.7L941.3,1008.6L942.0,1008.5L942.7,1008.4L943.4,1008.3L944.1,1008.2L944.8,1008.1L945.5,1008.0L946.2,1007.9L946.9,1007.8L947.6,1007.8L948.3,1007.7L949.0,1007.6L949.7,1007.5L950.4,1007.4L951.2,1007.3L951.9,1007.2L952.6,1007.2L953.3,1007.1L954.0,1007.0L954.7,1006.9L955.4,1006.8L956.1,1006.8L956.8,1006.7L957.5,1006.6L958.2,1006.5L958.9,1006.5L959.6,1006.4L960.3,1006.3L961.0,1006.3L961.7,1006.2L962.4,1006.2L963.1,1006.1L963.8,1006.0L964.5,1006.0L965.2,1005.9L965.9,1005.9L966.6,1005.8L967.3,1005.8L968.0,1005.7L968.7,1005.7L969.4,1005.7L970.1,1005.6L970.9,1005.6L971.6,1005.5L972.3,1005.5L973.0,1005.5L973.7,1005.5L974.4,1005.4L975.1,1005.4L975.8,1005.4L976.5,1005.4L977.2,1005.4L977.9,1005.4L978.6,1005.3L979.3,1005.3L980.0,1005.3L980.7,1005.3L981.4,1005.3L982.1,1005.3L982.8,1005.4L983.5,1005.4L984.2,1005.4L984.9,1005.5L985.6,1005.5L986.3,1005.6L987.0,1005.6L987.7,1005.7L988.4,1005.8L989.1,1005.9L989.8,1006.0L990.5,1006.1L991.2,1006.2L991.9,1006.3L992.6,1006.4L993.3,1006.5L994.0,1006.6L994.7,1006.7L995.4,1006.9L996.1,1007.0L996.8,1007.1L997.5,1007.3L998.2,1007.4L998.9,1007.5L999.6,1007.7L1000.3,1007.8L1001.1,1008.0L1001.8,1008.1L1002.5,1008.3L1003.2,1008.4L1003.9,1008.5L1004.6,1008.7L1005.3,1008.8L1006.0,1008.9L1006.7,1009.1L1007.4,1009.2L1008.1,1009.3L1008.8,1009.4L1009.5,1009.5L1010.2,1009.6L1010.9,1009.7L1011.6,1009.8L1012.3,1009.9L1013.0,1010.0L1013.7,1010.1L1014.4,1010.2L1015.1,1010.2L1015.8,1010.3L1016.5,1010.3L1017.2,1010.4L1017.9,1010.4L1018.6,1010.4L1019.3,1010.5L1020.0,1010.5L1020.7,1010.5L1021.4,1010.5L1022.1,1010.5L1022.8,1010.4L1023.5,1010.4L1024.2,1010.4L1024.9,1010.4L1025.6,1010.4L1026.3,1010.3L1027.1,1010.3L1027.8,1010.3L1028.5,1010.2L1029.2,1010.2L1029.9,1010.1L1030.6,1010.1L1031.3,1010.0L1032.0,1010.0L1032.7,1009.9L1033.4,1009.8L1034.1,1009.8L1034.8,1009.7L1035.5,1009.6L1036.2,1009.5L1036.9,1009.5L1037.6,1009.4L1038.3,1009.3L1039.1,1009.2L1039.8,1009.1L1040.5,1009.1L1041.2,1009.0L1041.9,1008.9L1042.6,1008.8L1043.3,1008.7L1044.0,1008.6L1044.7,1008.5L1045.4,1008.4L1046.1,1008.3L1046.8,1008.3L1047.5,1008.2L1048.2,1008.1L1048.9,1008.0L1049.6,1007.9L1050.4,1007.8L1051.1,1007.7L1051.8,1007.7L1052.5,1007.6L1053.2,1007.5L1053.9,1007.4L1054.6,1007.4L1055.3,1007.3L1056.0,1007.2L1056.7,1007.2L1057.4,1007.1L1058.1,1007.1L1058.8,1007.0L1059.5,1007.0L1060.2,1006.9L1060.9,1006.9L1061.6,1006.8L1062.4,1006.8L1063.1,1006.8L1063.8,1006.7L1064.5,1006.7L1065.2,1006.7L1065.9,1006.7L1066.6,1006.7L1067.3,1006.7L1068.0,1006.7M1409.0,1009.7L1409.7,1009.7L1410.4,1009.7L1411.1,1009.7L1411.8,1009.7L1412.5,1009.7L1413.2,1009.7L1413.9,1009.7L1414.6,1009.7L1415.3,1009.7L1416.0,1009.7L1416.7,1009.7L1417.4,1009.7L1418.1,1009.7L1418.8,1009.7L1419.5,1009.7L1420.2,1009.7L1420.9,1009.7L1421.6,1009.7L1422.3,1009.7L1423.0,1009.7L1423.7,1009.7L1424.4,1009.7L1425.1,1009.7L1425.8,1009.7L1426.5,1009.7L1427.2,1009.7L1427.9,1009.7L1428.6,1009.7L1429.3,1009.7L1430.0,1009.7L1430.7,1009.7L1431.4,1009.7L1432.1,1009.7L1432.8,1009.7L1433.5,1009.7L1434.2,1009.7L1435.0,1009.7L1435.7,1009.7L1436.4,1009.7L1437.1,1009.7L1437.8,1009.7L1438.5,1009.7L1439.2,1009.7L1439.9,1009.7L1440.6,1009.7L1441.3,1009.7L1442.0,1009.7L1442.7,1009.7L1443.4,1009.7L1444.1,1009.7L1444.8,1009.7L1445.5,1009.7L1446.2,1009.7L1446.9,1009.7L1447.6,1009.7L1448.3,1009.7L1449.0,1009.7L1449.7,1009.7L1450.4,1009.7L1451.1,1009.7L1451.8,1009.7L1452.5,1009.7L1453.2,1009.7L1453.9,1009.7L1454.6,1009.7L1455.3,1009.7L1456.0,1009.7L1456.7,1009.7L1457.4,1009.7L1458.1,1009.7L1458.8,1009.7L1459.5,1009.8L1460.2,1009.8L1460.9,1009.8L1461.6,1009.8L1462.3,1009.8L1463.0,1009.8L1463.7,1009.8L1464.4,1009.8L1465.1,1009.8L1465.8,1009.8L1466.5,1009.8L1467.2,1009.8L1467.9,1009.8L1468.6,1009.8L1469.3,1009.8L1470.0,1009.8L1470.7,1009.8L1471.4,1009.8L1472.1,1009.8L1472.8,1009.8L1473.5,1009.8L1474.2,1009.8L1474.9,1009.8L1475.6,1009.8L1476.3,1009.8L1477.0,1009.8L1477.7,1009.8L1478.4,1009.8L1479.1,1009.8L1479.8,1009.8L1480.5,1009.8L1481.2,1009.8L1481.9,1009.8L1482.6,1009.8L1483.3,1009.8L1484.0,1009.8L1484.8,1009.8L1485.5,1009.8L1486.2,1009.8L1486.9,1009.8L1487.6,1009.8L1488.3,1009.8L1489.0,1009.8L1489.7,1009.9L1490.4,1009.9L1491.1,1009.9L1491.8,1009.9L1492.5,1009.9L1493.2,1009.9L1493.9,1009.9L1494.6,1009.9L1495.3,1009.9L1496.0,1009.9L1496.7,1009.9L1497.4,1009.9L1498.1,1009.9L1498.8,1009.9L1499.5,1009.9L1500.2,1009.9L1500.9,1009.9L1501.6,1009.9L1502.3,1009.9L1503.0,1009.9L1503.7,1009.9L1504.4,1009.9L1505.1,1009.9L1505.8,1009.9L1506.5,1009.9L1507.2,1009.9L1507.9,1009.9L1508.6,1009.9L1509.3,1009.9L1510.0,1009.9L1510.7,1009.9L1511.4,1009.9L1512.1,1009.9L1512.8,1009.9L1513.5,1009.9L1514.2,1009.9L1514.9,1009.9L1515.6,1009.9L1516.3,1009.9L1517.0,1009.9L1517.7,1009.9L1518.4,1009.9L1519.1,1009.9L1519.8,1009.9L1520.5,1009.9L1521.2,1009.9L1521.9,1009.9L1522.6,1010.0L1523.3,1010.0L1524.0,1010.0L1524.7,1010.0L1525.4,1010.0L1526.1,1010.0L1526.8,1010.0L1527.5,1010.0L1528.2,1010.0L1528.9,1010.0L1529.6,1010.0L1530.3,1010.0L1531.0,1010.0L1531.7,1010.0L1532.4,1010.0L1533.1,1010.0L1533.8,1010.0L1534.5,1010.0L1535.2,1010.0L1536.0,1010.0L1536.7,1010.0L1537.4,1010.0L1538.1,1010.0L1538.8,1010.0L1539.5,1010.0L1540.2,1010.0L1540.9,1010.0L1541.6,1010.0L1542.3,1010.0L1543.0,1010.0L1543.7,1010.0L1544.4,1010.0L1545.1,1010.0L1545.8,1010.0L1546.5,1010.0L1547.2,1010.0L1547.9,1010.0L1548.6,1010.0L1549.3,1010.0L1550.0,1010.0L1550.7,1010.0L1551.4,1010.0L1552.1,1010.0L1552.8,1010.0L1553.5,1010.0L1554.2,1010.0L1554.9,1010.0L1555.6,1010.0L1556.3,1010.0L1557.0,1010.0L1557.7,1010.0L1558.4,1010.0L1559.1,1010.0L1559.8,1010.0L1560.5,1010.0L1561.2,1009.6L1561.9,1008.5L1562.7,1006.6L1563.4,1003.9L1564.1,1000.6L1564.8,996.7L1565.6,992.1L1566.3,987.0L1567.0,981.5L1567.7,975.6L1568.4,969.3L1569.2,962.9L1569.9,956.3L1570.6,949.7L1571.3,943.1L1572.1,936.7L1572.8,930.4L1573.5,924.5L1574.2,919.0L1574.9,913.9L1575.7,909.3L1576.4,905.4L1577.1,902.1L1577.8,899.4L1578.6,897.5L1579.3,896.4L1580.0,896.0L1580.7,896.1L1581.4,896.4L1582.1,896.8L1582.8,897.5L1583.5,898.3L1584.2,899.3L1584.9,900.5L1585.6,901.9L1586.3,903.4L1587.0,905.1L1587.7,907.0L1588.4,909.0L1589.1,911.3L1589.9,913.6L1590.6,916.2L1591.3,918.9L1592.0,921.7L1592.7,924.7L1593.4,927.8L1594.1,931.0L1594.8,934.4L1595.5,937.9L1596.2,941.6L1596.9,945.3L1597.6,949.2L1598.3,953.1L1599.0,957.2L1599.7,961.3L1600.4,965.6L1601.1,969.9L1601.8,974.2L1602.5,978.7L1603.2,983.2L1603.9,987.7L1604.6,992.3L1605.3,996.9L1606.0,1001.6L1606.7,1006.3L1607.4,1011.0L1608.2,1015.7L1608.9,1020.4L1609.6,1025.1L1610.3,1029.7L1611.0,1034.4L1611.7,1039.0L1612.4,1043.6L1613.1,1048.1L1613.8,1052.6L1614.5,1057.1L1615.2,1061.5L1615.9,1065.8L1616.6,1070.0L1617.3,1074.1L1618.0,1078.2L1618.7,1082.1L1619.4,1086.0L1620.1,1089.8L1620.8,1093.4L1621.5,1096.9L1622.2,1100.3L1622.9,1103.5L1623.6,1106.7L1624.3,1109.6L1625.0,1112.5L1625.7,1115.2L1626.4,1117.7L1627.2,1120.1L1627.9,1122.3L1628.6,1124.3L1629.3,1126.2L1630.0,1127.9L1630.7,1129.5L1631.4,1130.8L1632.1,1132.0L1632.8,1133.0L1633.5,1133.9L1634.2,1134.5L1634.9,1135.0L1635.6,1135.2L1636.3,1135.3L1637.0,1135.3L1637.7,1135.2L1638.4,1134.9L1639.1,1134.6L1639.8,1134.2L1640.5,1133.8L1641.2,1133.2L1641.9,1132.5L1642.6,1131.8L1643.4,1131.0L1644.1,1130.1L1644.8,1129.1L1645.5,1128.0L1646.2,1126.9L1646.9,1125.6L1647.6,1124.3L1648.3,1122.9L1649.0,1121.5L1649.7,1120.0L1650.4,1118.4L1651.1,1116.7L1651.8,1115.0L1652.5,1113.1L1653.2,1111.3L1653.9,1109.3L1654.6,1107.4L1655.3,1105.3L1656.0,1103.2L1656.8,1101.0L1657.5,1098.8L1658.2,1096.6L1658.9,1094.3L1659.6,1091.9L1660.3,1089.5L1661.0,1087.1L1661.7,1084.6L1662.4,1082.1L1663.1,1079.6L1663.8,1077.0L1664.5,1074.5L1665.2,1071.9L1665.9,1069.2L1666.6,1066.6L1667.3,1063.9L1668.0,1061.3L1668.7,1058.6L1669.4,1055.9L1670.2,1053.2L1670.9,1050.5L1671.6,1047.8L1672.3,1045.1L1673.0,1042.5L1673.7,1039.8L1674.4,1037.2L1675.1,1034.5L1675.8,1031.9L1676.5,1029.4L1677.2,1026.8L1677.9,1024.3L1678.6,1021.8L1679.3,1019.3L1680.0,1016.9L1680.7,1014.5L1681.4,1012.1L1682.1,1009.8L1682.8,1007.6L1683.5,1005.4L1684.3,1003.2L1685.0,1001.1L1685.7,999.0L1686.4,997.1L1687.1,995.1L1687.8,993.3L1688.5,991.4L1689.2,989.7L1689.9,988.0L1690.6,986.4L1691.3,984.9L1692.0,983.5L1692.7,982.1L1693.4,980.8L1694.1,979.5L1694.8,978.4L1695.5,977.3L1696.2,976.3L1696.9,975.4L1697.7,974.6L1698.4,973.9L1699.1,973.2L1699.8,972.6L1700.5,972.2L1701.2,971.8L1701.9,971.5L1702.6,971.2L1703.3,971.1L1704.0,971.1L1704.7,971.1L1705.4,971.2L1706.1,971.3L1706.8,971.4L1707.5,971.6L1708.2,971.8L1708.9,972.1L1709.7,972.4L1710.4,972.8L1711.1,973.2L1711.8,973.6L1712.5,974.1L1713.2,974.6L1713.9,975.1L1714.6,975.7L1715.3,976.3L1716.0,977.0L1716.7,977.7L1717.4,978.4L1718.1,979.2L1718.8,980.0L1719.6,980.8L1720.3,981.6L1721.0,982.5L1721.7,983.4L1722.4,984.4L1723.1,985.3L1723.8,986.3L1724.5,987.3L1725.2,988.3L1725.9,989.4L1726.6,990.4L1727.3,991.5L1728.0,992.6L1728.7,993.7L1729.4,994.8L1730.2,996.0L1730.9,997.1L1731.6,998.3L1732.3,999.4L1733.0,1000.6L1733.7,1001.8L1734.4,1002.9L1735.1,1004.1L1735.8,1005.3L1736.5,1006.5L1737.2,1007.6L1737.9,1008.8L1738.6,1009.9L1739.3,1011.1L1740.1,1012.2L1740.8,1013.3L1741.5,1014.5L1742.2,1015.6L1742.9,1016.6L1743.6,1017.7L1744.3,1018.7L1745.0,1019.8L1745.7,1020.8L1746.4,1021.8L1747.1,1022.7L1747.8,1023.6L1748.5,1024.6L1749.2,1025.4L1749.9,1026.3L1750.7,1027.1L1751.4,1027.9L1752.1,1028.7L1752.8,1029.4L1753.5,1030.1L1754.2,1030.7L1754.9,1031.4L1755.6,1031.9L1756.3,1032.5L1757.0,1033.0L1757.7,1033.5L1758.4,1033.9L1759.1,1034.3L1759.8,1034.7L1760.6,1035.0L1761.3,1035.2L1762.0,1035.5L1762.7,1035.7L1763.4,1035.8L1764.1,1035.9L1764.8,1036.0L1765.5,1036.0L1766.2,1036.0L1766.9,1036.0L1767.6,1035.9L1768.3,1035.8L1769.0,1035.7L1769.7,1035.6L1770.4,1035.5L1771.1,1035.3L1771.8,1035.1L1772.5,1034.9L1773.2,1034.7L1773.9,1034.4L1774.6,1034.1L1775.3,1033.9L1776.0,1033.5L1776.7,1033.2L1777.4,1032.9L1778.1,1032.5L1778.8,1032.1L1779.5,1031.7L1780.2,1031.3L1780.9,1030.8L1781.6,1030.4L1782.3,1029.9L1783.0,1029.4L1783.7,1028.9L1784.4,1028.4L1785.1,1027.9L1785.8,1027.3L1786.5,1026.8L1787.2,1026.2L1787.9,1025.7L1788.6,1025.1L1789.3,1024.5L1790.0,1023.9L1790.7,1023.3L1791.4,1022.6L1792.1,1022.0L1792.8,1021.4L1793.5,1020.7L1794.2,1020.1L1794.9,1019.4L1795.6,1018.8L1796.3,1018.1L1797.0,1017.5L1797.8,1016.8L1798.5,1016.2L1799.2,1015.5L1799.9,1014.9L1800.6,1014.2L1801.3,1013.6L1802.0,1012.9L1802.7,1012.3L1803.4,1011.7L1804.1,1011.0L1804.8,1010.4L1805.5,1009.8L1806.2,1009.2L1806.9,1008.6L1807.6,1008.0L1808.3,1007.4L1809.0,1006.9L1809.7,1006.3L1810.4,1005.8L1811.1,1005.3L1811.8,1004.7L1812.5,1004.2L1813.2,1003.8L1813.9,1003.3L1814.6,1002.8L1815.3,1002.4L1816.0,1002.0L1816.7,1001.6L1817.4,1001.2L1818.1,1000.8L1818.8,1000.5L1819.5,1000.1L1820.2,999.8L1820.9,999.5L1821.6,999.3L1822.3,999.0L1823.0,998.8L1823.7,998.6L1824.4,998.4L1825.1,998.2L1825.8,998.1L1826.5,997.9L1827.2,997.8L1827.9,997.8L1828.6,997.7L1829.3,997.7L1830.0,997.7L1830.7,997.7L1831.4,997.7L1832.1,997.7L1832.8,997.8L1833.5,997.8L1834.2,997.9L1834.9,997.9L1835.6,998.0L1836.3,998.1L1837.0,998.2L1837.7,998.3L1838.4,998.5L1839.1,998.6L1839.8,998.7L1840.6,998.9L1841.3,999.0L1842.0,999.2L1842.7,999.4L1843.4,999.6L1844.1,999.8L1844.8,1000.0L1845.5,1000.2L1846.2,1000.4L1846.9,1000.7L1847.6,1000.9L1848.3,1001.2L1849.0,1001.4L1849.7,1001.7L1850.4,1001.9L1851.1,1002.2L1851.8,1002.5L1852.5,1002.8L1853.2,1003.1L1853.9,1003.3L1854.6,1003.6L1855.3,1003.9L1856.0,1004.2L1856.7,1004.5L1857.4,1004.8L1858.1,1005.2L1858.8,1005.5L1859.5,1005.8L1860.2,1006.1L1860.9,1006.4L1861.7,1006.7L1862.4,1007.0L1863.1,1007.4L1863.8,1007.7L1864.5,1008.0L1865.2,1008.3L1865.9,1008.6L1866.6,1008.9L1867.3,1009.2L1868.0,1009.5L1868.7,1009.8L1869.4,1010.1L1870.1,1010.4L1870.8,1010.6L1871.5,1010.9L1872.2,1011.2L1872.9,1011.5L1873.6,1011.7L1874.3,1012.0L1875.0,1012.2L1875.7,1012.5L1876.4,1012.7L1877.1,1012.9L1877.8,1013.1L1878.5,1013.3L1879.2,1013.5L1879.9,1013.7L1880.6,1013.9L1881.3,1014.1L1882.0,1014.2L1882.8,1014.4L1883.5,1014.5L1884.2,1014.7L1884.9,1014.8L1885.6,1014.9L1886.3,1015.0L1887.0,1015.1L1887.7,1015.2L1888.4,1015.3L1889.1,1015.3L1889.8,1015.4L1890.5,1015.4L1891.2,1015.4L1891.9,1015.5L1892.6,1015.5L1893.3,1015.5L1894.0,1015.5L1894.7,1015.4L1895.4,1015.4L1896.1,1015.4L1896.8,1015.3L1897.5,1015.3L1898.2,1015.2L1899.0,1015.2L1899.7,1015.1L1900.4,1015.0L1901.1,1015.0L1901.8,1014.9L1902.5,1014.8L1903.2,1014.7L1903.9,1014.6L1904.6,1014.5L1905.3,1014.4L1906.0,1014.2L1906.7,1014.1L1907.4,1014.0L1908.1,1013.8L1908.8,1013.7L1909.5,1013.5L1910.2,1013.4L1910.9,1013.2L1911.7,1013.1L1912.4,1012.9L1913.1,1012.7L1913.8,1012.6L1914.5,1012.4L1915.2,1012.2L1915.9,1012.0L1916.6,1011.8L1917.3,1011.7L1918.0,1011.5L1918.7,1011.3L1919.4,1011.1L1920.1,1010.9L1920.8,1010.7L1921.5,1010.5L1922.2,1010.3L1922.9,1010.1L1923.7,1009.9L1924.4,1009.7L1925.1,1009.5L1925.8,1009.3L1926.5,1009.1L1927.2,1008.9L1927.9,1008.7L1928.6,1008.5L1929.3,1008.3L1930.0,1008.2L1930.7,1008.0L1931.4,1007.8L1932.1,1007.6L1932.8,1007.4L1933.5,1007.3L1934.2,1007.1L1934.9,1006.9L1935.7,1006.8L1936.4,1006.6L1937.1,1006.5L1937.8,1006.3L1938.5,1006.2L1939.2,1006.0L1939.9,1005.9L1940.6,1005.8L1941.3,1005.6L1942.0,1005.5L1942.7,1005.4L1943.4,1005.3L1944.1,1005.2L1944.8,1005.1L1945.5,1005.0L1946.2,1005.0L1946.9,1004.9L1947.6,1004.8L1948.4,1004.8L1949.1,1004.7L1949.8,1004.7L1950.5,1004.6L1951.2,1004.6L1951.9,1004.6L1952.6,1004.5L1953.3,1004.5L1954.0,1004.5L1954.7,1004.5L1955.4,1004.5L1956.1,1004.5L1956.8,1004.6L1957.5,1004.6L1958.2,1004.6L1958.9,1004.6L1959.6,1004.7L1960.3,1004.7L1961.0,1004.7L1961.7,1004.8L1962.4,1004.8L1963.1,1004.8L1963.8,1004.9L1964.5,1004.9L1965.2,1005.0L1965.9,1005.1L1966.6,1005.1L1967.3,1005.2L1968.0,1005.2L1968.7,1005.3L1969.4,1005.4L1970.1,1005.5L1970.8,1005.5L1971.5,1005.6L1972.2,1005.7L1972.9,1005.8L1973.6,1005.9L1974.3,1006.0L1975.0,1006.0L1975.7,1006.1L1976.4,1006.2L1977.1,1006.3L1977.8,1006.4L1978.5,1006.5L1979.2,1006.6L1979.9,1006.7L1980.6,1006.8L1981.3,1006.9L1982.0,1007.0L1982.7,1007.1L1983.4,1007.2L1984.1,1007.3L1984.8,1007.4L1985.6,1007.5L1986.3,1007.6L1987.0,1007.7L1987.7,1007.8L1988.4,1007.9L1989.1,1008.0L1989.8,1008.2L1990.5,1008.3L1991.2,1008.3L1991.9,1008.4L1992.6,1008.5L1993.3,1008.6L1994.0,1008.7L1994.7,1008.8L1995.4,1008.9L1996.1,1009.0L1996.8,1009.1L1997.5,1009.2L1998.2,1009.3L1998.9,1009.3L1999.6,1009.4L2000.3,1009.5L2001.0,1009.6L2001.7,1009.6L2002.4,1009.7L2003.1,1009.8L2003.8,1009.8L2004.5,1009.9L2005.2,1009.9L2005.9,1010.0L2006.6,1010.0L2007.3,1010.1L2008.0,1010.1L2008.7,1010.2L2009.4,1010.2L2010.1,1010.2L2010.8,1010.2L2011.5,1010.3L2012.2,1010.3L2012.9,1010.3L2013.6,1010.3L2014.3,1010.3L2015.0,1010.3L2015.7,1010.3L2016.4,1010.3L2017.1,1010.3L2017.8,1010.3L2018.5,1010.3L2019.2,1010.3L2019.9,1010.3L2020.6,1010.3L2021.4,1010.3L2022.1,1010.3L2022.8,1010.3L2023.5,1010.3L2024.2,1010.2L2024.9,1010.2L2025.6,1010.2L2026.3,1010.2L2027.0,1010.2L2027.7,1010.1L2028.4,1010.1L2029.1,1010.1L2029.8,1010.1L2030.5,1010.0L2031.2,1010.0L2032.0,1010.0L2032.7,1010.0L2033.4,1009.9L2034.1,1009.9L2034.8,1009.9L2035.5,1009.8L2036.2,1009.8L2036.9,1009.8L2037.6,1009.7L2038.3,1009.7L2039.0,1009.7L2039.7,1009.6L2040.4,1009.6L2041.1,1009.5L2041.8,1009.5L2042.6,1009.5L2043.3,1009.4L2044.0,1009.4L2044.7,1009.3L2045.4,1009.3L2046.1,1009.3L2046.8,1009.2L2047.5,1009.2L2048.2,1009.1L2048.9,1009.1L2049.6,1009.1L2050.3,1009.0L2051.0,1009.0L2051.7,1008.9L2052.4,1008.9L2053.1,1008.9L2053.9,1008.8L2054.6,1008.8L2055.3,1008.8L2056.0,1008.7L2056.7,1008.7L2057.4,1008.6L2058.1,1008.6L2058.8,1008.6L2059.5,1008.5L2060.2,1008.5L2060.9,1008.5L2061.6,1008.4L2062.3,1008.4L2063.0,1008.4L2063.7,1008.3L2064.5,1008.3L2065.2,1008.3L2065.9,1008.3L2066.6,1008.2L2067.3,1008.2L2068.0,1008.2L2068.7,1008.2L2069.4,1008.2L2070.1,1008.1L2070.8,1008.1L2071.5,1008.1L2072.2,1008.1L2072.9,1008.1L2073.6,1008.1L2074.3,1008.0L2075.1,1008.0L2075.8,1008.0L2076.5,1008.0L2077.2,1008.0L2077.9,1008.0L2078.6,1008.0L2079.3,1008.0L2080.0,1008.0L2080.7,1008.0L2081.4,1008.0L2082.1,1008.0L2082.8,1008.0L2083.5,1008.0L2084.2,1008.0L2084.9,1008.0L2085.6,1008.0L2086.3,1008.0L2087.0,1008.0L2087.7,1008.0L2088.4,1008.0L2089.1,1008.0L2089.8,1008.0L2090.5,1008.0L2091.2,1008.0L2091.9,1008.0L2092.6,1008.0L2093.3,1008.0L2094.0,1008.0L2094.7,1008.0L2095.4,1008.0L2096.1,1008.0L2096.8,1008.0L2097.5,1008.0L2098.2,1008.0L2098.9,1008.0L2099.6,1008.0L2100.3,1008.0L2101.0,1008.0L2101.7,1008.0L2102.4,1008.0L2103.1,1008.0L2103.8,1008.0L2104.5,1008.0L2105.2,1007.9L2105.9,1007.9L2106.6,1007.9L2107.3,1007.9L2108.0,1007.9L2108.7,1007.9L2109.4,1007.9L2110.1,1007.9L2110.8,1007.9L2111.5,1007.9L2112.2,1007.9L2112.9,1007.9L2113.6,1007.9L2114.3,1007.9L2115.0,1007.9L2115.7,1007.9L2116.4,1007.9L2117.1,1007.9L2117.8,1007.9L2118.5,1007.9L2119.2,1007.9L2119.9,1007.9L2120.6,1007.9L2121.3,1007.9L2122.0,1007.9L2122.7,1007.9L2123.4,1007.9L2124.1,1007.9L2124.8,1007.9L2125.5,1007.9L2126.2,1007.8L2126.9,1007.8L2127.6,1007.8L2128.3,1007.8L2129.0,1007.8L2129.7,1007.8L2130.4,1007.8L2131.1,1007.8L2131.8,1007.8L2132.5,1007.8L2133.2,1007.8L2133.9,1007.8L2134.6,1007.8L2135.3,1007.8L2136.0,1007.8L2136.7,1007.8L2137.4,1007.8L2138.1,1007.8L2138.8,1007.8L2139.5,1007.8L2140.2,1007.8L2140.9,1007.8L2141.6,1007.8L2142.3,1007.8L2143.0,1007.8L2143.7,1007.8L2144.4,1007.8L2145.1,1007.8L2145.8,1007.7L2146.5,1007.7L2147.2,1007.7L2147.9,1007.7L2148.6,1007.7L2149.3,1007.7L2150.0,1007.7L2150.7,1007.7L2151.4,1007.7L2152.1,1007.7L2152.8,1007.7L2153.5,1007.7L2154.2,1007.7L2154.9,1007.7L2155.6,1007.7L2156.3,1007.7L2157.0,1007.7L2157.7,1007.7L2158.4,1007.7L2159.1,1007.7L2159.8,1007.7L2160.5,1007.7L2161.2,1007.7L2161.9,1007.7L2162.6,1007.7L2163.3,1007.7L2164.0,1007.7L2164.7,1007.7L2165.4,1007.7L2166.1,1007.7L2166.8,1007.7L2167.5,1007.7L2168.2,1007.7L2168.9,1007.7L2169.6,1007.7L2170.3,1007.7L2171.0,1007.7L2171.7,1007.7L2172.4,1007.7L2173.1,1007.7L2173.8,1007.7L2174.5,1007.7L2175.2,1007.7L2175.9,1007.7L2176.6,1007.7L2177.3,1007.7L2178.0,1007.7" stroke="#7F2AA3" stroke-width="10.4" fill="none" stroke-linejoin="round" stroke-linecap="round"/></g>
<circle cx="1125.9" cy="1510.5" r="8" fill="#7F2AA3"/>
<circle cx="1199.5" cy="1510.5" r="8" fill="#7F2AA3"/>
<circle cx="1272.7" cy="1510.5" r="8" fill="#7F2AA3"/>
<circle cx="1346.3" cy="1510.5" r="8" fill="#7F2AA3"/>
<path d="M307.5,1108.5H2181.5V1814.5H307.5Z M2181.5,1814.5V1824.3 M307.5,1814.5V1824.3" stroke="#222222" stroke-width="5" fill="none"/>
<text transform="translate(140.88,1238.74) scale(0.9823,1)" font-size="75.85" fill="#404040" >1300</text>
<text transform="translate(140.88,1339.84) scale(0.9823,1)" font-size="75.85" fill="#404040" >1200</text>
<text transform="translate(140.81,1440.24) scale(0.9891,1)" font-size="76.15" fill="#404040" >1100</text>
<text transform="translate(140.91,1538.84) scale(0.9800,1)" font-size="75.70" fill="#404040" >1000</text>
<text transform="translate(171.86,1639.93) scale(0.9730,1)" font-size="77.19" fill="#404040" >900</text>
<text transform="translate(171.47,1739.53) scale(0.9746,1)" font-size="77.33" fill="#404040" >800</text>
<text transform="translate(262.13,1842.23) scale(0.9888,1)" font-size="77.33" fill="#404040" >0</text>
<text transform="translate(275.58,1884.25) scale(0.9894,1)" font-size="76.90" fill="#404040" >4.6</text>
<text transform="translate(415.18,1886.66) scale(1.0034,1)" font-size="75.88" fill="#404040" >4.8</text>
<text transform="translate(599.10,1885.52) scale(0.9414,1)" font-size="77.59" fill="#404040" >5</text>
<text transform="translate(706.70,1886.66) scale(1.0273,1)" font-size="76.16" fill="#404040" >5.2</text>
<text transform="translate(862.14,1886.16) scale(0.9970,1)" font-size="75.99" fill="#404040" >5.4</text>
<text transform="translate(1015.26,1886.64) scale(0.9969,1)" font-size="77.49" fill="#404040" >5.6</text>
<text transform="translate(1369.12,1890.46) scale(1.0040,1)" font-size="75.88" fill="#404040" >9.8</text>
<text transform="translate(1529.60,1890.84) scale(0.9568,1)" font-size="76.44" fill="#404040" >10</text>
<text transform="translate(1651.04,1887.25) scale(0.9911,1)" font-size="76.76" fill="#404040" >10.2</text>
<text transform="translate(1806.72,1885.16) scale(0.9759,1)" font-size="75.88" fill="#404040" >10.4</text>
<text transform="translate(1960.44,1886.64) scale(0.9703,1)" font-size="77.21" fill="#404040" >10.6</text>
<text transform="translate(2120.80,1884.46) scale(0.9807,1)" font-size="75.74" fill="#404040" >10.8</text>
<circle cx="1143.8" cy="1867.1" r="5" fill="#000"/>
<circle cx="1185.4" cy="1867.1" r="5" fill="#000"/>
<circle cx="1227.2" cy="1867.1" r="5" fill="#000"/>
<circle cx="1269.1" cy="1867.1" r="5" fill="#000"/>
<circle cx="1310.6" cy="1867.1" r="5" fill="#000"/>
<circle cx="1352.4" cy="1867.1" r="5" fill="#000"/>
<text transform="translate(110.97,1654.86) rotate(-90) scale(1.0341,1)" font-size="83.41" fill="#000">Voltage</text>
<text transform="translate(110.27,1370.30) rotate(-90) scale(0.9951,1)" font-size="66.94" fill="#000">(V)</text>
<text x="1119.2" y="2038.5" font-size="84.5" fill="#000" textLength="104.3" lengthAdjust="spacingAndGlyphs">(<tspan font-weight="bold">b</tspan>)</text>
<path d="M711.1,230.6L678.8,254.5M653.5,275.9L621.0,301.9M597.3,325.7L567.3,353.7M543.9,379.5L517.7,409.2M496.0,437.3L472.1,469.6M453.6,497.9L432.1,532.6M415.4,564.0L397.6,598.4M384.7,631.4L371.0,668.4M361.8,702.9L351.6,742.4M345.7,775.3L340.6,814.0M338.7,849.7L339.3,889.9M342.1,925.6L346.6,962.8M354.5,999.9L365.1,1035.8M377.1,1071.2L392.5,1105.9M410.2,1139.4L429.4,1170.1M450.7,1201.7L473.7,1229.8M500.1,1258.0L533.8,1289.0M1779.0,247.8L1808.3,267.8M1837.9,289.3L1867.7,315.6M1892.5,340.4L1918.8,368.9M1941.7,398.4L1963.0,430.5M1981.1,460.4L1999.1,496.2M2013.9,527.8L2028.2,564.8M2038.3,599.4L2047.7,636.1M2055.9,673.7L2061.8,710.3M2065.3,746.5L2068.9,784.5M2069.0,821.0L2068.5,860.5M2066.3,897.3L2061.2,935.2M2055.4,970.5L2049.6,1008.5M2040.4,1043.7L2030.3,1081.8M2019.7,1115.4L2007.0,1152.2M1993.2,1185.7L1977.9,1222.6M1962.2,1254.4L1944.4,1288.6M1927.0,1317.6L1921.5,1327.4" stroke="#000" stroke-width="8" stroke-linecap="round" fill="none"/>
<path d="M575.3,1352.7L503.9,1306.5L544,1272.3Z" fill="#000" stroke="#000" stroke-width="2" stroke-linejoin="round"/>
<path d="M1874.2,1388L1906.4,1307.4L1949,1341Z" fill="#000" stroke="#000" stroke-width="2" stroke-linejoin="round"/>
<path d="M565,1345L576.5,1358M1882,1378L1874.5,1387.5" stroke="#000" stroke-width="7.5" stroke-linecap="round" fill="none"/>
<path d="M451.5,2073V2745.5M622.5,2073V2745.5M778.5,2073V2745.5M927.5,2073V2745.5M1100.5,2073V2745.5M1267.5,2073V2745.5M1434.5,2073V2745.5M1597.5,2073V2745.5M1741.5,2073V2745.5M1910.5,2073V2745.5M281,2170.5H2083M281,2267.5H2083M281,2362.5H2083M281,2459.5H2083M281,2555.5H2083M281,2651.5H2083" stroke="#D0D0D0" stroke-width="3" fill="none"/>
<path d="M281.0,2217.5L770.7,2217.5L771.5,2217.0L772.2,2215.7L773.0,2213.6L773.8,2211.2L774.5,2208.9L775.3,2206.8L776.0,2205.5L776.8,2205.0L777.5,2205.3L778.2,2206.1L778.9,2207.5L779.6,2209.4L780.3,2211.8L781.0,2214.6L781.7,2217.9L782.4,2221.5L783.1,2225.4L783.8,2229.5L784.5,2233.8L785.2,2238.3L785.9,2242.7L786.6,2247.2L787.3,2251.5L788.0,2255.6L788.7,2259.5L789.4,2263.1L790.1,2266.4L790.8,2269.2L791.5,2271.6L792.2,2273.5L792.9,2274.9L793.6,2275.7L794.3,2276.0L795.0,2275.9L795.7,2275.8L796.5,2275.5L797.2,2275.1L797.9,2274.7L798.6,2274.1L799.3,2273.5L800.1,2272.8L800.8,2272.1L801.5,2271.4L802.2,2270.6L802.9,2269.9L803.6,2269.2L804.4,2268.5L805.1,2267.9L805.8,2267.3L806.5,2266.9L807.2,2266.5L808.0,2266.2L808.7,2266.1L809.4,2266.0L810.1,2266.1L810.8,2266.3L811.6,2266.8L812.3,2267.3L813.0,2268.0L813.7,2268.8L814.4,2269.6L815.2,2270.4L815.9,2271.2L816.6,2272.0L817.3,2272.7L818.0,2273.2L818.8,2273.7L819.5,2273.9L820.2,2274.0L820.9,2274.0L821.6,2274.0L822.4,2273.9L823.1,2273.8L823.8,2273.7L824.5,2273.6L825.2,2273.5L825.9,2273.3L826.7,2273.2L827.4,2273.0L828.1,2272.8L828.8,2272.7L829.5,2272.5L830.2,2272.3L831.0,2272.2L831.7,2272.0L832.4,2271.9L833.1,2271.8L833.8,2271.7L834.5,2271.6L835.3,2271.5L836.0,2271.5L836.7,2271.5L837.4,2271.5L838.2,2271.6L838.9,2271.7L839.7,2271.8L840.4,2271.9L841.1,2272.1L841.9,2272.3L842.6,2272.5L843.4,2272.8L844.1,2273.0L844.8,2273.2L845.6,2273.4L846.3,2273.6L847.0,2273.7L847.8,2273.8L848.5,2273.9L849.3,2274.0L850.0,2274.0L1590.0,2274.0L1590.8,2274.6L1591.6,2276.4L1592.4,2279.1L1593.2,2281.9L1594.0,2284.6L1594.8,2286.4L1595.6,2287.0L1596.3,2286.7L1597.1,2285.8L1597.8,2284.2L1598.5,2282.2L1599.2,2279.6L1600.0,2276.6L1600.7,2273.2L1601.4,2269.6L1602.1,2265.9L1602.9,2262.1L1603.6,2258.4L1604.3,2254.8L1605.0,2251.4L1605.8,2248.4L1606.5,2245.8L1607.2,2243.8L1607.9,2242.2L1608.7,2241.3L1609.4,2241.0L1610.1,2241.1L1610.8,2241.4L1611.5,2241.8L1612.3,2242.5L1613.0,2243.3L1613.7,2244.2L1614.4,2245.2L1615.1,2246.3L1615.8,2247.4L1616.6,2248.6L1617.3,2249.7L1618.0,2250.8L1618.7,2251.8L1619.4,2252.7L1620.1,2253.5L1620.9,2254.2L1621.6,2254.6L1622.3,2254.9L1623.0,2255.0L1623.7,2254.9L1624.4,2254.7L1625.1,2254.3L1625.8,2253.8L1626.5,2253.1L1627.2,2252.3L1627.9,2251.5L1628.6,2250.5L1629.3,2249.5L1630.0,2248.5L1630.7,2247.5L1631.4,2246.5L1632.1,2245.5L1632.8,2244.7L1633.5,2243.9L1634.2,2243.2L1634.9,2242.7L1635.6,2242.3L1636.3,2242.1L1637.0,2242.0L1637.7,2242.0L1638.4,2242.2L1639.2,2242.4L1639.9,2242.7L1640.6,2243.1L1641.3,2243.6L1642.0,2244.1L1642.8,2244.6L1643.5,2245.2L1644.2,2245.8L1644.9,2246.4L1645.7,2246.9L1646.4,2247.4L1647.1,2247.9L1647.8,2248.3L1648.5,2248.6L1649.3,2248.8L1650.0,2249.0L1650.7,2249.0L1651.4,2249.0L1652.1,2248.9L1652.8,2248.8L1653.6,2248.7L1654.3,2248.5L1655.0,2248.3L1655.7,2248.1L1656.4,2247.8L1657.1,2247.6L1657.8,2247.3L1658.6,2247.0L1659.3,2246.8L1660.0,2246.5L1660.7,2246.3L1661.4,2246.1L1662.1,2245.9L1662.9,2245.8L1663.6,2245.7L1664.3,2245.6L1665.0,2245.6L2083.0,2245.6" stroke="#00B050" stroke-width="9.5" fill="none" stroke-linejoin="round" stroke-linecap="round"/>
<path d="M281.0,2491.0L773.0,2491.0L773.8,2503.2L774.6,2527.8L775.4,2540.0L776.1,2539.1L776.8,2536.4L777.5,2531.9L778.2,2525.8L778.9,2518.1L779.7,2509.1L780.4,2498.9L781.1,2487.7L781.8,2475.7L782.5,2463.2L783.2,2450.5L783.9,2437.8L784.6,2425.3L785.3,2413.3L786.0,2402.1L786.7,2391.9L787.5,2382.9L788.2,2375.2L788.9,2369.1L789.6,2364.6L790.3,2361.9L791.0,2361.0L791.7,2361.5L792.5,2362.8L793.2,2365.1L793.9,2368.1L794.6,2372.0L795.4,2376.5L796.1,2381.6L796.8,2387.2L797.5,2393.3L798.3,2399.5L799.0,2405.9L799.7,2412.3L800.5,2418.5L801.2,2424.6L801.9,2430.2L802.6,2435.3L803.4,2439.8L804.1,2443.7L804.8,2446.7L805.5,2449.0L806.3,2450.3L807.0,2450.8L807.7,2450.6L808.5,2450.1L809.2,2449.3L809.9,2448.2L810.6,2446.9L811.4,2445.3L812.1,2443.5L812.8,2441.5L813.6,2439.5L814.3,2437.4L815.0,2435.3L815.8,2433.3L816.5,2431.3L817.2,2429.5L818.0,2427.9L818.7,2426.6L819.4,2425.5L820.1,2424.7L820.9,2424.2L821.6,2424.0L822.3,2424.1L823.0,2424.2L823.8,2424.5L824.5,2424.9L825.2,2425.4L825.9,2425.9L826.6,2426.6L827.4,2427.3L828.1,2428.0L828.8,2428.8L829.5,2429.5L830.2,2430.3L830.9,2431.0L831.7,2431.7L832.4,2432.4L833.1,2432.9L833.8,2433.4L834.5,2433.8L835.3,2434.1L836.0,2434.2L836.7,2434.3L837.4,2434.3L838.2,2434.2L838.9,2434.1L839.7,2434.0L840.4,2433.9L841.1,2433.7L841.9,2433.5L842.6,2433.3L843.4,2433.2L844.1,2433.0L844.8,2432.8L845.6,2432.6L846.3,2432.4L847.0,2432.3L847.8,2432.2L848.5,2432.1L849.3,2432.0L850.0,2432.0L850.7,2432.0L851.4,2432.0L852.1,2432.0L852.8,2432.0L853.5,2432.0L854.2,2432.0L854.9,2432.0L855.6,2432.0L856.3,2432.0L857.0,2432.0L857.7,2432.0L858.4,2432.0L859.1,2432.0L859.8,2432.0L860.5,2432.0L861.2,2432.0L861.9,2432.0L862.6,2432.0L863.3,2432.0L864.0,2432.0L864.7,2432.0L865.4,2432.0L866.1,2432.0L866.8,2432.0L867.5,2432.0L868.2,2432.0L868.9,2432.0L869.6,2432.0L870.3,2432.0L871.0,2432.0L871.7,2432.0L872.4,2432.0L873.1,2432.0L873.8,2432.0L874.5,2432.0L875.2,2432.0L875.9,2432.0L876.6,2432.0L877.3,2432.0L878.0,2432.0L878.7,2432.0L879.4,2432.0L880.1,2432.0L880.8,2432.0L881.5,2432.0L882.2,2432.0L882.9,2432.0L883.6,2432.0L884.3,2432.0L885.0,2432.0L885.7,2432.0L886.4,2432.0L887.1,2432.0L887.8,2432.0L888.5,2432.0L889.2,2432.0L889.9,2432.0L890.6,2432.0L891.3,2432.0L892.0,2432.0L892.7,2432.0L893.4,2432.0L894.1,2432.0L894.8,2432.0L895.5,2432.0L896.2,2432.0L896.9,2432.0L897.6,2432.0L898.3,2432.0L899.0,2432.0L899.7,2432.0L900.4,2432.0L901.1,2432.0L901.8,2432.0L902.5,2432.0L903.2,2432.0L903.9,2432.0L904.6,2432.0L905.3,2432.0L906.0,2432.0L906.7,2432.0L907.4,2432.0L908.1,2432.0L908.8,2432.0L909.5,2432.0L910.2,2432.0L910.9,2432.0L911.6,2432.0L912.3,2432.0L913.0,2432.0L913.7,2432.0L914.4,2432.0L915.1,2432.0L915.8,2432.0L916.5,2432.0L917.2,2432.0L917.9,2432.0L918.6,2432.0L919.3,2432.0L920.0,2432.0L920.7,2432.0L921.4,2432.0L922.1,2432.0L922.8,2432.0L923.5,2432.0L924.2,2432.0L924.9,2432.0L925.6,2432.0L926.3,2432.0L927.0,2432.0L927.7,2432.0L928.4,2432.0L929.1,2432.0L929.8,2432.0L930.5,2432.0L931.2,2432.0L931.9,2432.0L932.6,2432.0L933.3,2432.0L934.0,2432.0L934.7,2432.0L935.4,2432.0L936.1,2432.0L936.8,2431.9L937.5,2431.9L938.2,2431.9L938.9,2431.9L939.6,2431.9L940.3,2431.9L941.0,2431.9L941.7,2431.9L942.4,2431.9L943.1,2431.9L943.8,2431.9L944.5,2431.9L945.2,2431.9L945.9,2431.9L946.6,2431.9L947.3,2431.9L948.0,2431.9L948.7,2431.9L949.4,2431.9L950.1,2431.9L950.8,2431.9L951.5,2431.9L952.2,2431.9L952.9,2431.9L953.6,2431.9L954.3,2431.9L955.0,2431.9L955.7,2431.9L956.4,2431.9L957.1,2431.9L957.8,2431.9L958.5,2431.9L959.2,2431.9L959.9,2431.9L960.6,2431.9L961.3,2431.9L962.0,2431.9L962.7,2431.9L963.4,2431.9L964.1,2431.9L964.8,2431.9L965.5,2431.9L966.2,2431.9L966.9,2431.9L967.6,2431.9L968.3,2431.9L969.0,2431.9L969.7,2431.9L970.4,2431.9L971.1,2431.9L971.8,2431.9L972.5,2431.9L973.2,2431.9L973.9,2431.9L974.6,2431.9L975.3,2431.9L976.0,2431.9L976.7,2431.9L977.4,2431.9L978.1,2431.9L978.8,2431.9L979.5,2431.9L980.2,2431.9L980.9,2431.9L981.6,2431.9L982.3,2431.9L983.0,2431.9L983.7,2431.9L984.4,2431.9L985.1,2431.9L985.8,2431.9L986.5,2431.9L987.2,2431.9L987.9,2431.9L988.6,2431.9L989.3,2431.9L990.0,2431.9L990.7,2431.9L991.4,2431.9L992.1,2431.9L992.8,2431.9L993.5,2431.9L994.2,2431.9L994.9,2431.9L995.6,2431.9L996.3,2431.9L997.0,2431.9L997.7,2431.9L998.4,2431.9L999.1,2431.9L999.8,2431.9L1000.5,2431.9L1001.2,2431.9L1001.9,2431.8L1002.6,2431.8L1003.3,2431.8L1004.0,2431.8L1004.7,2431.8L1005.4,2431.8L1006.1,2431.8L1006.8,2431.8L1007.5,2431.8L1008.2,2431.8L1008.9,2431.8L1009.6,2431.8L1010.3,2431.8L1011.0,2431.8L1011.7,2431.8L1012.4,2431.8L1013.1,2431.8L1013.8,2431.8L1014.5,2431.8L1015.2,2431.8L1015.9,2431.8L1016.6,2431.8L1017.3,2431.8L1018.0,2431.8L1018.7,2431.8L1019.4,2431.8L1020.1,2431.8L1020.8,2431.8L1021.5,2431.8L1022.2,2431.8L1022.9,2431.8L1023.6,2431.8L1024.3,2431.8L1025.0,2431.8L1025.7,2431.8L1026.4,2431.8L1027.1,2431.8L1027.8,2431.8L1028.5,2431.8L1029.2,2431.8L1029.9,2431.8L1030.6,2431.8L1031.3,2431.8L1032.0,2431.8L1032.7,2431.8L1033.4,2431.8L1034.1,2431.8L1034.8,2431.8L1035.5,2431.8L1036.2,2431.8L1036.9,2431.8L1037.6,2431.8L1038.3,2431.8L1039.0,2431.8L1039.7,2431.8L1040.4,2431.8L1041.1,2431.8L1041.8,2431.8L1042.5,2431.8L1043.2,2431.8L1043.9,2431.8L1044.6,2431.8L1045.3,2431.8L1046.0,2431.8L1046.7,2431.8L1047.4,2431.8L1048.1,2431.7L1048.8,2431.7L1049.5,2431.7L1050.2,2431.7L1050.9,2431.7L1051.6,2431.7L1052.3,2431.7L1053.0,2431.7L1053.7,2431.7L1054.4,2431.7L1055.1,2431.7L1055.8,2431.7L1056.5,2431.7L1057.2,2431.7L1057.9,2431.7L1058.6,2431.7L1059.3,2431.7L1060.0,2431.7L1060.7,2431.7L1061.4,2431.7L1062.1,2431.7L1062.8,2431.7L1063.5,2431.7L1064.2,2431.7L1064.9,2431.7L1065.6,2431.7L1066.3,2431.7L1067.0,2431.7L1067.7,2431.7L1068.4,2431.7L1069.1,2431.7L1069.8,2431.7L1070.5,2431.7L1071.2,2431.7L1071.9,2431.7L1072.6,2431.7L1073.3,2431.7L1074.0,2431.7L1074.7,2431.7L1075.4,2431.7L1076.1,2431.7L1076.8,2431.7L1077.5,2431.7L1078.2,2431.7L1078.9,2431.7L1079.6,2431.7L1080.3,2431.7L1081.0,2431.7L1081.7,2431.7L1082.4,2431.7L1083.1,2431.7L1083.8,2431.7L1084.5,2431.7L1085.2,2431.7L1085.9,2431.7L1086.6,2431.7L1087.3,2431.7L1088.0,2431.6L1088.7,2431.6L1089.4,2431.6L1090.1,2431.6L1090.8,2431.6L1091.5,2431.6L1092.2,2431.6L1092.9,2431.6L1093.6,2431.6L1094.3,2431.6L1095.0,2431.6L1095.7,2431.6L1096.4,2431.6L1097.1,2431.6L1097.8,2431.6L1098.5,2431.6L1099.2,2431.6L1099.9,2431.6L1100.6,2431.6L1101.3,2431.6L1102.0,2431.6L1102.7,2431.6L1103.4,2431.6L1104.1,2431.6L1104.8,2431.6L1105.5,2431.6L1106.2,2431.6L1106.9,2431.6L1107.6,2431.6L1108.3,2431.6L1109.0,2431.6L1109.7,2431.6L1110.4,2431.6L1111.1,2431.6L1111.8,2431.6L1112.5,2431.6L1113.2,2431.6L1113.9,2431.6L1114.6,2431.6L1115.3,2431.6L1116.0,2431.6L1116.7,2431.6L1117.4,2431.6L1118.1,2431.6L1118.8,2431.6L1119.5,2431.6L1120.2,2431.6L1120.9,2431.6L1121.6,2431.6L1122.3,2431.6L1123.0,2431.6L1123.7,2431.5L1124.4,2431.5L1125.1,2431.5L1125.8,2431.5L1126.5,2431.5L1127.2,2431.5L1127.9,2431.5L1128.6,2431.5L1129.3,2431.5L1130.0,2431.5L1130.7,2431.5L1131.4,2431.5L1132.1,2431.5L1132.8,2431.5L1133.5,2431.5L1134.2,2431.5L1134.9,2431.5L1135.6,2431.5L1136.3,2431.5L1137.0,2431.5L1137.7,2431.5L1138.4,2431.5L1139.1,2431.5L1139.8,2431.5L1140.5,2431.5L1141.2,2431.5L1141.9,2431.5L1142.6,2431.5L1143.3,2431.5L1144.0,2431.5L1144.7,2431.5L1145.4,2431.5L1146.1,2431.5L1146.8,2431.5L1147.5,2431.5L1148.2,2431.5L1148.9,2431.5L1149.6,2431.5L1150.3,2431.5L1151.0,2431.5L1151.7,2431.5L1152.4,2431.5L1153.1,2431.5L1153.8,2431.5L1154.5,2431.5L1155.2,2431.5L1155.9,2431.5L1156.6,2431.4L1157.3,2431.4L1158.0,2431.4L1158.7,2431.4L1159.4,2431.4L1160.1,2431.4L1160.8,2431.4L1161.5,2431.4L1162.2,2431.4L1162.9,2431.4L1163.6,2431.4L1164.3,2431.4L1165.0,2431.4L1165.7,2431.4L1166.4,2431.4L1167.1,2431.4L1167.8,2431.4L1168.5,2431.4L1169.2,2431.4L1169.9,2431.4L1170.6,2431.4L1171.3,2431.4L1172.0,2431.4L1172.7,2431.4L1173.4,2431.4L1174.1,2431.4L1174.8,2431.4L1175.5,2431.4L1176.2,2431.4L1176.9,2431.4L1177.6,2431.4L1178.3,2431.4L1179.0,2431.4L1179.7,2431.4L1180.4,2431.4L1181.1,2431.4L1181.8,2431.4L1182.5,2431.4L1183.2,2431.4L1183.9,2431.4L1184.6,2431.4L1185.3,2431.4L1186.0,2431.4L1186.7,2431.4L1187.4,2431.4L1188.1,2431.4L1188.8,2431.3L1189.5,2431.3L1190.2,2431.3L1190.9,2431.3L1191.6,2431.3L1192.3,2431.3L1193.0,2431.3L1193.7,2431.3L1194.4,2431.3L1195.1,2431.3L1195.8,2431.3L1196.5,2431.3L1197.2,2431.3L1197.9,2431.3L1198.6,2431.3L1199.3,2431.3L1200.0,2431.3L1200.7,2431.3L1201.4,2431.3L1202.1,2431.3L1202.8,2431.3L1203.5,2431.3L1204.2,2431.3L1204.9,2431.3L1205.6,2431.3L1206.3,2431.3L1207.0,2431.3L1207.7,2431.3L1208.4,2431.3L1209.1,2431.3L1209.8,2431.3L1210.5,2431.3L1211.2,2431.3L1211.9,2431.3L1212.6,2431.3L1213.3,2431.3L1214.0,2431.3L1214.7,2431.3L1215.4,2431.3L1216.1,2431.3L1216.8,2431.3L1217.5,2431.3L1218.2,2431.3L1218.9,2431.3L1219.6,2431.3L1220.4,2431.2L1221.1,2431.2L1221.8,2431.2L1222.5,2431.2L1223.2,2431.2L1223.9,2431.2L1224.6,2431.2L1225.3,2431.2L1226.0,2431.2L1226.7,2431.2L1227.4,2431.2L1228.1,2431.2L1228.8,2431.2L1229.5,2431.2L1230.2,2431.2L1230.9,2431.2L1231.6,2431.2L1232.3,2431.2L1233.0,2431.2L1233.7,2431.2L1234.4,2431.2L1235.1,2431.2L1235.8,2431.2L1236.5,2431.2L1237.2,2431.2L1237.9,2431.2L1238.6,2431.2L1239.3,2431.2L1240.0,2431.2L1240.7,2431.2L1241.4,2431.2L1242.1,2431.2L1242.8,2431.2L1243.5,2431.2L1244.2,2431.2L1244.9,2431.2L1245.6,2431.2L1246.3,2431.2L1247.0,2431.2L1247.7,2431.2L1248.4,2431.2L1249.1,2431.2L1249.8,2431.2L1250.5,2431.2L1251.2,2431.2L1251.9,2431.1L1252.6,2431.1L1253.3,2431.1L1254.0,2431.1L1254.7,2431.1L1255.4,2431.1L1256.1,2431.1L1256.8,2431.1L1257.5,2431.1L1258.2,2431.1L1258.9,2431.1L1259.6,2431.1L1260.3,2431.1L1261.0,2431.1L1261.7,2431.1L1262.4,2431.1L1263.1,2431.1L1263.8,2431.1L1264.5,2431.1L1265.2,2431.1L1265.9,2431.1L1266.6,2431.1L1267.3,2431.1L1268.0,2431.1L1268.7,2431.1L1269.4,2431.1L1270.1,2431.1L1270.8,2431.1L1271.5,2431.1L1272.2,2431.1L1272.9,2431.1L1273.6,2431.1L1274.3,2431.1L1275.0,2431.1L1275.7,2431.1L1276.4,2431.1L1277.1,2431.1L1277.8,2431.1L1278.5,2431.1L1279.2,2431.1L1279.9,2431.1L1280.6,2431.1L1281.3,2431.1L1282.0,2431.1L1282.7,2431.1L1283.4,2431.1L1284.1,2431.0L1284.8,2431.0L1285.5,2431.0L1286.2,2431.0L1286.9,2431.0L1287.6,2431.0L1288.3,2431.0L1289.0,2431.0L1289.7,2431.0L1290.4,2431.0L1291.1,2431.0L1291.8,2431.0L1292.5,2431.0L1293.2,2431.0L1293.9,2431.0L1294.6,2431.0L1295.3,2431.0L1296.0,2431.0L1296.7,2431.0L1297.4,2431.0L1298.1,2431.0L1298.8,2431.0L1299.5,2431.0L1300.2,2431.0L1300.9,2431.0L1301.6,2431.0L1302.3,2431.0L1303.0,2431.0L1303.7,2431.0L1304.4,2431.0L1305.1,2431.0L1305.8,2431.0L1306.5,2431.0L1307.2,2431.0L1307.9,2431.0L1308.6,2431.0L1309.3,2431.0L1310.0,2431.0L1310.7,2431.0L1311.4,2431.0L1312.1,2431.0L1312.8,2431.0L1313.5,2431.0L1314.2,2431.0L1314.9,2431.0L1315.6,2431.0L1316.3,2431.0L1317.0,2430.9L1317.7,2430.9L1318.4,2430.9L1319.1,2430.9L1319.8,2430.9L1320.5,2430.9L1321.2,2430.9L1321.9,2430.9L1322.6,2430.9L1323.3,2430.9L1324.0,2430.9L1324.7,2430.9L1325.4,2430.9L1326.1,2430.9L1326.8,2430.9L1327.5,2430.9L1328.2,2430.9L1328.9,2430.9L1329.6,2430.9L1330.3,2430.9L1331.0,2430.9L1331.7,2430.9L1332.4,2430.9L1333.1,2430.9L1333.8,2430.9L1334.5,2430.9L1335.2,2430.9L1335.9,2430.9L1336.6,2430.9L1337.3,2430.9L1338.0,2430.9L1338.7,2430.9L1339.4,2430.9L1340.1,2430.9L1340.8,2430.9L1341.5,2430.9L1342.2,2430.9L1342.9,2430.9L1343.6,2430.9L1344.3,2430.9L1345.0,2430.9L1345.7,2430.9L1346.4,2430.9L1347.1,2430.9L1347.8,2430.9L1348.5,2430.9L1349.2,2430.9L1349.9,2430.9L1350.6,2430.9L1351.3,2430.9L1352.0,2430.9L1352.7,2430.8L1353.4,2430.8L1354.1,2430.8L1354.8,2430.8L1355.5,2430.8L1356.2,2430.8L1356.9,2430.8L1357.6,2430.8L1358.3,2430.8L1359.0,2430.8L1359.7,2430.8L1360.4,2430.8L1361.1,2430.8L1361.8,2430.8L1362.5,2430.8L1363.2,2430.8L1363.9,2430.8L1364.6,2430.8L1365.3,2430.8L1366.0,2430.8L1366.7,2430.8L1367.4,2430.8L1368.1,2430.8L1368.8,2430.8L1369.5,2430.8L1370.2,2430.8L1370.9,2430.8L1371.6,2430.8L1372.3,2430.8L1373.0,2430.8L1373.7,2430.8L1374.4,2430.8L1375.1,2430.8L1375.8,2430.8L1376.5,2430.8L1377.2,2430.8L1377.9,2430.8L1378.6,2430.8L1379.3,2430.8L1380.0,2430.8L1380.7,2430.8L1381.4,2430.8L1382.1,2430.8L1382.8,2430.8L1383.5,2430.8L1384.2,2430.8L1384.9,2430.8L1385.6,2430.8L1386.3,2430.8L1387.0,2430.8L1387.7,2430.8L1388.4,2430.8L1389.1,2430.8L1389.8,2430.8L1390.5,2430.8L1391.2,2430.8L1391.9,2430.8L1392.6,2430.7L1393.3,2430.7L1394.0,2430.7L1394.7,2430.7L1395.4,2430.7L1396.1,2430.7L1396.8,2430.7L1397.5,2430.7L1398.2,2430.7L1398.9,2430.7L1399.6,2430.7L1400.3,2430.7L1401.0,2430.7L1401.7,2430.7L1402.4,2430.7L1403.1,2430.7L1403.8,2430.7L1404.5,2430.7L1405.2,2430.7L1405.9,2430.7L1406.6,2430.7L1407.3,2430.7L1408.0,2430.7L1408.7,2430.7L1409.4,2430.7L1410.1,2430.7L1410.8,2430.7L1411.5,2430.7L1412.2,2430.7L1412.9,2430.7L1413.6,2430.7L1414.3,2430.7L1415.0,2430.7L1415.7,2430.7L1416.4,2430.7L1417.1,2430.7L1417.8,2430.7L1418.5,2430.7L1419.2,2430.7L1419.9,2430.7L1420.6,2430.7L1421.3,2430.7L1422.0,2430.7L1422.7,2430.7L1423.4,2430.7L1424.1,2430.7L1424.8,2430.7L1425.5,2430.7L1426.2,2430.7L1426.9,2430.7L1427.6,2430.7L1428.3,2430.7L1429.0,2430.7L1429.7,2430.7L1430.4,2430.7L1431.1,2430.7L1431.8,2430.7L1432.5,2430.7L1433.2,2430.7L1433.9,2430.7L1434.6,2430.7L1435.3,2430.7L1436.0,2430.7L1436.7,2430.7L1437.4,2430.7L1438.1,2430.7L1438.8,2430.6L1439.5,2430.6L1440.2,2430.6L1440.9,2430.6L1441.6,2430.6L1442.3,2430.6L1443.0,2430.6L1443.7,2430.6L1444.4,2430.6L1445.1,2430.6L1445.8,2430.6L1446.5,2430.6L1447.2,2430.6L1447.9,2430.6L1448.6,2430.6L1449.3,2430.6L1450.0,2430.6L1450.7,2430.6L1451.4,2430.6L1452.1,2430.6L1452.8,2430.6L1453.5,2430.6L1454.2,2430.6L1454.9,2430.6L1455.6,2430.6L1456.3,2430.6L1457.0,2430.6L1457.7,2430.6L1458.4,2430.6L1459.1,2430.6L1459.8,2430.6L1460.5,2430.6L1461.2,2430.6L1461.9,2430.6L1462.6,2430.6L1463.3,2430.6L1464.0,2430.6L1464.7,2430.6L1465.4,2430.6L1466.1,2430.6L1466.8,2430.6L1467.5,2430.6L1468.2,2430.6L1468.9,2430.6L1469.6,2430.6L1470.3,2430.6L1471.0,2430.6L1471.7,2430.6L1472.4,2430.6L1473.1,2430.6L1473.8,2430.6L1474.5,2430.6L1475.2,2430.6L1475.9,2430.6L1476.6,2430.6L1477.3,2430.6L1478.0,2430.6L1478.7,2430.6L1479.4,2430.6L1480.1,2430.6L1480.8,2430.6L1481.5,2430.6L1482.2,2430.6L1482.9,2430.6L1483.6,2430.6L1484.3,2430.6L1485.0,2430.6L1485.7,2430.6L1486.4,2430.6L1487.1,2430.6L1487.8,2430.6L1488.5,2430.6L1489.2,2430.6L1489.9,2430.6L1490.6,2430.6L1491.3,2430.6L1492.0,2430.6L1492.7,2430.6L1493.4,2430.6L1494.1,2430.6L1494.8,2430.6L1495.5,2430.6L1496.2,2430.6L1496.9,2430.6L1497.6,2430.6L1498.3,2430.6L1499.0,2430.6L1499.7,2430.6L1500.4,2430.6L1501.1,2430.6L1501.8,2430.6L1502.5,2430.6L1503.2,2430.6L1503.9,2430.5L1504.6,2430.5L1505.3,2430.5L1506.0,2430.5L1506.7,2430.5L1507.4,2430.5L1508.1,2430.5L1508.8,2430.5L1509.5,2430.5L1510.2,2430.5L1510.9,2430.5L1511.6,2430.5L1512.3,2430.5L1513.0,2430.5L1513.7,2430.5L1514.4,2430.5L1515.1,2430.5L1515.8,2430.5L1516.5,2430.5L1517.2,2430.5L1517.9,2430.5L1518.6,2430.5L1519.3,2430.5L1520.0,2430.5L1520.7,2430.5L1521.4,2430.5L1522.1,2430.5L1522.8,2430.5L1523.5,2430.5L1524.2,2430.5L1524.9,2430.5L1525.6,2430.5L1526.3,2430.5L1527.0,2430.5L1527.7,2430.5L1528.4,2430.5L1529.1,2430.5L1529.8,2430.5L1530.5,2430.5L1531.2,2430.5L1531.9,2430.5L1532.6,2430.5L1533.3,2430.5L1534.0,2430.5L1534.7,2430.5L1535.4,2430.5L1536.1,2430.5L1536.8,2430.5L1537.5,2430.5L1538.2,2430.5L1538.9,2430.5L1539.6,2430.5L1540.3,2430.5L1541.0,2430.5L1541.7,2430.5L1542.4,2430.5L1543.1,2430.5L1543.8,2430.5L1544.5,2430.5L1545.2,2430.5L1545.9,2430.5L1546.6,2430.5L1547.3,2430.5L1548.0,2430.5L1548.7,2430.5L1549.4,2430.5L1550.1,2430.5L1550.8,2430.5L1551.5,2430.5L1552.2,2430.5L1552.9,2430.5L1553.6,2430.5L1554.3,2430.5L1555.0,2430.5L1555.7,2430.5L1556.4,2430.5L1557.1,2430.5L1557.8,2430.5L1558.5,2430.5L1559.2,2430.5L1559.9,2430.5L1560.6,2430.5L1561.3,2430.5L1562.0,2430.5L1562.7,2430.5L1563.4,2430.5L1564.1,2430.5L1564.8,2430.5L1565.5,2430.5L1566.2,2430.5L1566.9,2430.5L1567.6,2430.5L1568.3,2430.5L1569.0,2430.5L1569.7,2430.5L1570.4,2430.5L1571.1,2430.5L1571.8,2430.5L1572.5,2430.5L1573.2,2430.5L1573.9,2430.5L1574.6,2430.5L1575.3,2430.5L1576.0,2430.5L1576.7,2430.5L1577.4,2430.5L1578.1,2430.5L1578.8,2430.5L1579.5,2430.5L1580.2,2430.5L1580.9,2430.5L1581.6,2430.5L1582.3,2430.5L1583.0,2430.5L1583.7,2430.5L1584.4,2430.5L1585.1,2430.5L1585.8,2430.5L1586.5,2430.5L1587.2,2430.5L1587.9,2430.5L1588.6,2430.5L1589.3,2430.5L1590.0,2430.5L1590.8,2424.2L1591.6,2407.9L1592.4,2387.6L1593.2,2371.3L1594.0,2365.0L1594.7,2365.9L1595.4,2368.5L1596.1,2372.9L1596.9,2378.8L1597.6,2386.2L1598.3,2394.9L1599.0,2404.6L1599.7,2415.1L1600.4,2426.2L1601.2,2437.5L1601.9,2448.8L1602.6,2459.9L1603.3,2470.4L1604.0,2480.1L1604.7,2488.8L1605.4,2496.2L1606.2,2502.1L1606.9,2506.5L1607.6,2509.1L1608.3,2510.0L1609.0,2509.5L1609.7,2508.1L1610.5,2505.7L1611.2,2502.5L1611.9,2498.4L1612.6,2493.8L1613.3,2488.6L1614.1,2483.0L1614.8,2477.2L1615.5,2471.2L1616.2,2465.4L1617.0,2459.8L1617.7,2454.6L1618.4,2450.0L1619.1,2445.9L1619.8,2442.7L1620.6,2440.3L1621.3,2438.9L1622.0,2438.4L1622.7,2438.6L1623.5,2439.4L1624.2,2440.6L1624.9,2442.2L1625.6,2444.2L1626.4,2446.5L1627.1,2449.1L1627.8,2451.9L1628.5,2454.8L1629.3,2457.8L1630.0,2460.7L1630.7,2463.5L1631.4,2466.1L1632.2,2468.4L1632.9,2470.4L1633.6,2472.0L1634.3,2473.2L1635.1,2474.0L1635.8,2474.2L1636.5,2474.1L1637.2,2473.8L1637.9,2473.3L1638.6,2472.6L1639.3,2471.8L1640.1,2470.8L1640.8,2469.7L1641.5,2468.4L1642.2,2467.1L1642.9,2465.8L1643.6,2464.4L1644.3,2463.1L1645.0,2461.8L1645.7,2460.6L1646.4,2459.4L1647.2,2458.4L1647.9,2457.6L1648.6,2456.9L1649.3,2456.4L1650.0,2456.1L1650.7,2456.0L1651.4,2456.1L1652.1,2456.3L1652.8,2456.6L1653.5,2457.0L1654.2,2457.5L1654.9,2458.1L1655.6,2458.7L1656.3,2459.4L1657.1,2460.2L1657.8,2460.9L1658.5,2461.6L1659.2,2462.2L1659.9,2462.8L1660.6,2463.3L1661.3,2463.7L1662.0,2464.0L1662.7,2464.2L1663.4,2464.3L1664.1,2464.3L1664.9,2464.2L1665.6,2464.1L1666.3,2463.9L1667.1,2463.7L1667.8,2463.5L1668.5,2463.3L1669.2,2463.0L1670.0,2462.7L1670.7,2462.4L1671.4,2462.1L1672.2,2461.8L1672.9,2461.5L1673.6,2461.3L1674.3,2461.1L1675.1,2460.9L1675.8,2460.7L1676.5,2460.6L1677.3,2460.5L1678.0,2460.5L2083.0,2460.5" stroke="#7F2AA3" stroke-width="7.5" fill="none" stroke-linejoin="round" stroke-linecap="round"/>
<path d="M281,2073H2083V2745.5H281Z M277,2745.5H281 M2083,2745.5V2756" stroke="#404040" stroke-width="4" fill="none"/>
<path d="M618,2693.5H819" stroke="#00B050" stroke-width="8" stroke-linecap="round"/>
<path d="M1300,2690.7H1499" stroke="#7F2AA3" stroke-width="8" stroke-linecap="round"/>
<text transform="translate(838.41,2699.20) scale(0.9386,1)" font-size="50.00" fill="#000" font-style="italic">Switch one duty cycle</text>
<text transform="translate(1528.04,2708.40) scale(0.9810,1)" font-size="48.00" fill="#000" font-style="italic">Rectified Voltage</text>
<text transform="translate(117.86,2193.65) scale(0.9845,1)" font-size="74.81" fill="#404040" >1800</text>
<text transform="translate(117.86,2286.55) scale(0.9845,1)" font-size="74.81" fill="#404040" >1500</text>
<text transform="translate(116.58,2382.15) scale(0.9821,1)" font-size="74.67" fill="#404040" >1200</text>
<text transform="translate(150.27,2477.75) scale(1.0001,1)" font-size="74.81" fill="#404040" >900</text>
<text transform="translate(147.59,2580.84) scale(0.9924,1)" font-size="76.00" fill="#404040" >600</text>
<text transform="translate(145.37,2670.25) scale(1.0222,1)" font-size="74.67" fill="#404040" >300</text>
<text transform="translate(2103.33,2195.88) scale(0.9874,1)" font-size="74.85" fill="#404040" >0.6</text>
<text transform="translate(2105.47,2285.91) scale(0.9974,1)" font-size="72.94" fill="#404040" >0.5</text>
<text transform="translate(2105.49,2381.21) scale(0.9914,1)" font-size="72.94" fill="#404040" >0.4</text>
<text transform="translate(2108.63,2477.78) scale(0.9514,1)" font-size="74.85" fill="#404040" >0.3</text>
<text transform="translate(2108.51,2580.88) scale(0.9918,1)" font-size="75.00" fill="#404040" >0.2</text>
<text transform="translate(2108.63,2670.91) scale(0.9778,1)" font-size="72.94" fill="#404040" >0.1</text>
<text transform="translate(273.80,2807.90) scale(1.1053,1)" font-size="74.42" fill="#404040" >2</text>
<text transform="translate(442.24,2813.45) scale(0.9464,1)" font-size="74.80" fill="#404040" >3</text>
<text transform="translate(612.89,2811.60) scale(0.9202,1)" font-size="76.65" fill="#404040" >4</text>
<text transform="translate(769.31,2814.55) scale(0.9488,1)" font-size="74.89" fill="#404040" >5</text>
<text transform="translate(915.93,2812.44) scale(1.0168,1)" font-size="75.69" fill="#404040" >6</text>
<text transform="translate(1075.90,2818.50) scale(1.0104,1)" font-size="77.71" fill="#404040" >7</text>
<text transform="translate(1247.39,2813.45) scale(1.0041,1)" font-size="74.52" fill="#404040" >8</text>
<text transform="translate(1422.71,2810.85) scale(1.0238,1)" font-size="74.94" fill="#404040" >9</text>
<text transform="translate(1565.47,2810.85) scale(0.9995,1)" font-size="74.67" fill="#404040" >10</text>
<text transform="translate(1716.94,2815.30) scale(0.9480,1)" font-size="75.45" fill="#404040" >11</text>
<text transform="translate(1875.80,2815.30) scale(0.9882,1)" font-size="75.17" fill="#404040" >12</text>
<text transform="translate(2043.28,2812.44) scale(0.9237,1)" font-size="75.69" fill="#404040" >13</text>
<text transform="translate(99.53,2601.44) rotate(-90) scale(1.0458,1)" font-size="80.33" fill="#000">Voltage</text>
<text transform="translate(100.34,2327.69) rotate(-90) scale(0.9846,1)" font-size="65.23" fill="#000">(V)</text>
<text transform="translate(2277.74,2670.25) rotate(-90) scale(1.0522,1)" font-size="77.47" fill="#000">Duty cycle</text>
<text transform="translate(2278.04,2296.75) rotate(-90) scale(1.0406,1)" font-size="65.23" fill="#000">(P.U.)</text>
<text x="1126.2" y="2966.5" font-size="87.1" fill="#000" textLength="90.4" lengthAdjust="spacingAndGlyphs">(<tspan font-weight="bold">c</tspan>)</text>
</svg></body></html>
